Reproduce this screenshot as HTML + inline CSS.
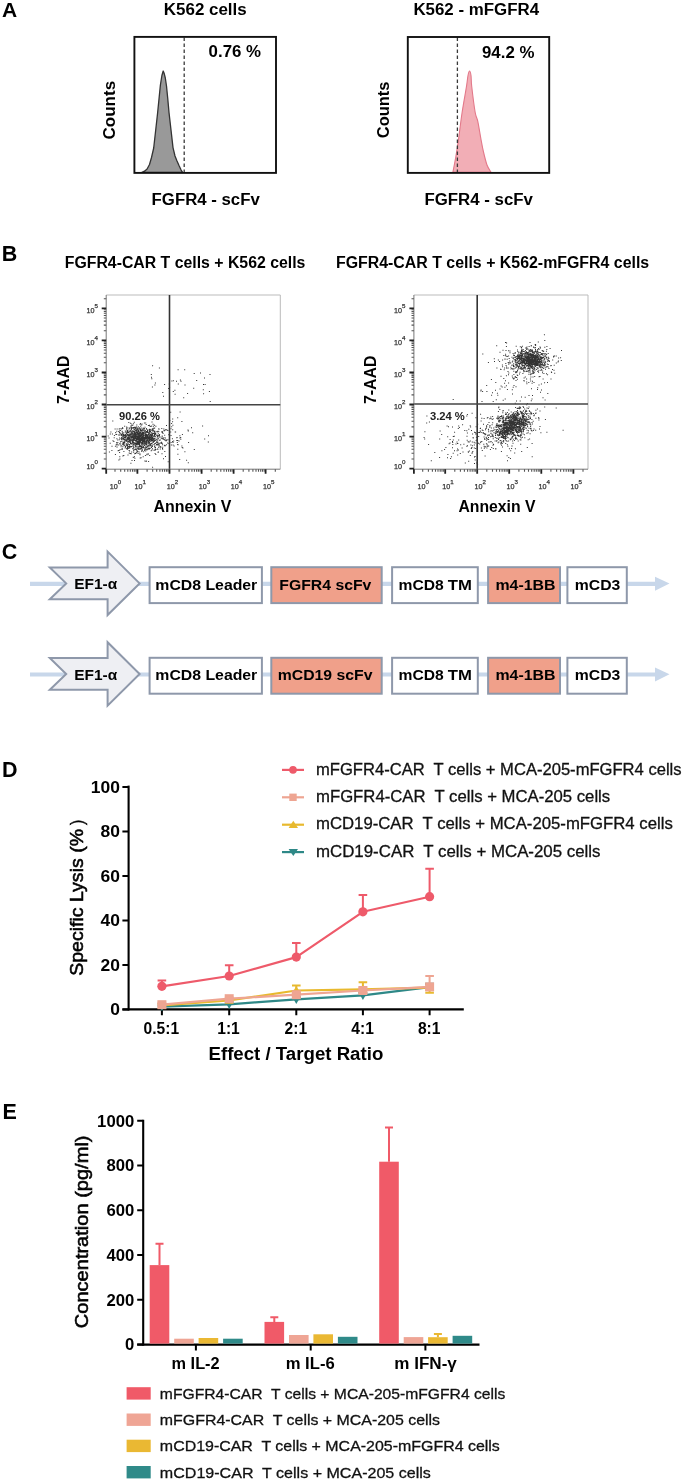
<!DOCTYPE html>
<html><head><meta charset="utf-8"><style>
html,body{margin:0;padding:0;background:#fff;}
body{width:685px;height:1481px;overflow:hidden;}
svg{display:block;filter:blur(0.35px);font-family:"Liberation Sans", sans-serif;}
</style></head><body>
<svg width="685" height="1481" viewBox="0 0 685 1481">
<text x="2" y="17.1" font-size="21" font-weight="bold">A</text>
<text x="163.80" y="14.90" font-size="16.8" font-weight="bold" fill="#000" textLength="82.92" lengthAdjust="spacingAndGlyphs" style="white-space:pre" >K562 cells</text>
<text x="413.40" y="14.70" font-size="16.8" font-weight="bold" fill="#000" textLength="125.71" lengthAdjust="spacingAndGlyphs" style="white-space:pre" >K562 - mFGFR4</text>
<path d="M141.9,172.3 L144.5,171.2 L147.1,169 L149.5,164.5 L151.5,157.5 L153.7,148 L155.6,131 L157.6,113 L159.2,97 L160.4,85 L161.9,75.5 L163.2,71.0 L164.3,73.8 L165.3,78 L166.5,86 L167.7,98 L169,112.5 L171,130 L173,147.6 L175,156 L176.9,160.7 L179,165.5 L181,169.8 L182.6,172.3 Z" fill="#999" stroke="#333" stroke-width="1.3" stroke-linejoin="round"/>
<path d="M452.90,172.20 C453.40,169.55 454.95,161.87 455.90,156.30 C456.85,150.73 457.57,146.10 458.60,138.80 C459.63,131.50 460.78,121.25 462.10,112.50 C463.42,103.75 465.52,92.47 466.50,86.30 C467.48,80.13 467.50,78.05 468.00,75.50 C468.50,72.95 469.00,71.00 469.50,71.00 C470.00,71.00 470.63,72.95 471.00,75.50 C471.37,78.05 471.00,80.13 471.70,86.30 C472.40,92.47 474.18,106.67 475.20,112.50 C476.22,118.33 476.85,116.92 477.80,121.30 C478.75,125.68 479.95,133.68 480.90,138.80 C481.85,143.92 482.48,147.63 483.50,152.00 C484.52,156.37 485.75,161.63 487.00,165.00 C488.25,168.37 490.33,171.00 491.00,172.20 Z" fill="#F2AEB6" stroke="#E3798A" stroke-width="1.1" stroke-linejoin="round"/>
<line x1="184.2" y1="37.4" x2="184.2" y2="172" stroke="#3a3a3a" stroke-width="1.3" stroke-dasharray="3.6 2.4"/>
<line x1="457.4" y1="37.4" x2="457.4" y2="172" stroke="#3a3a3a" stroke-width="1.3" stroke-dasharray="3.6 2.4"/>
<rect x="134.4" y="36.9" width="141.6" height="136.0" fill="none" stroke="#111" stroke-width="1.9"/>
<rect x="407.8" y="37.0" width="141.4" height="135.9" fill="none" stroke="#111" stroke-width="1.9"/>
<text x="208.63" y="57.00" font-size="16.8" font-weight="bold" fill="#000" textLength="52.47" lengthAdjust="spacingAndGlyphs" style="white-space:pre" >0.76 %</text>
<text x="482.01" y="58.20" font-size="16.8" font-weight="bold" fill="#000" textLength="52.38" lengthAdjust="spacingAndGlyphs" style="white-space:pre" >94.2 %</text>
<text transform="translate(115.00,138.80) rotate(-90)" x="-0.68" y="0" font-size="16.8" font-weight="bold" fill="#000" textLength="58.64" lengthAdjust="spacingAndGlyphs" >Counts</text>
<text transform="translate(389.00,137.50) rotate(-90)" x="-0.66" y="0" font-size="16.8" font-weight="bold" fill="#000" textLength="56.60" lengthAdjust="spacingAndGlyphs" >Counts</text>
<text x="151.61" y="205.40" font-size="16.8" font-weight="bold" fill="#000" textLength="108.19" lengthAdjust="spacingAndGlyphs" style="white-space:pre" >FGFR4 - scFv</text>
<text x="424.51" y="205.00" font-size="16.8" font-weight="bold" fill="#000" textLength="108.39" lengthAdjust="spacingAndGlyphs" style="white-space:pre" >FGFR4 - scFv</text>
<text x="1.7" y="260.6" font-size="21.5" font-weight="bold">B</text>
<text x="64.77" y="267.90" font-size="15.8" font-weight="bold" fill="#000" textLength="240.57" lengthAdjust="spacingAndGlyphs" style="white-space:pre" >FGFR4-CAR T cells + K562 cells</text>
<text x="335.97" y="267.90" font-size="15.8" font-weight="bold" fill="#000" textLength="313.18" lengthAdjust="spacingAndGlyphs" style="white-space:pre" >FGFR4-CAR T cells + K562-mFGFR4 cells</text>
<path d="M106.2,295.0 H280.3 V469.2" fill="none" stroke="#bbb" stroke-width="1"/>
<path d="M139.2 439.6h1v1h-1zM135.8 433.4h1v1h-1zM134.0 433.1h1v1h-1zM140.2 445.2h1v1h-1zM133.8 435.1h1v1h-1zM144.0 439.5h1v1h-1zM139.6 432.9h1v1h-1zM139.0 441.8h1v1h-1zM125.4 436.7h1v1h-1zM119.5 432.7h1v1h-1zM120.5 438.3h1v1h-1zM126.5 440.6h1v1h-1zM140.5 436.9h1v1h-1zM113.7 437.3h1v1h-1zM138.6 438.7h1v1h-1zM123.5 436.8h1v1h-1zM128.9 434.5h1v1h-1zM149.2 432.7h1v1h-1zM139.1 442.8h1v1h-1zM133.1 437.9h1v1h-1zM140.1 438.2h1v1h-1zM126.8 439.5h1v1h-1zM151.8 428.5h1v1h-1zM147.6 437.9h1v1h-1zM133.6 449.3h1v1h-1zM146.0 430.9h1v1h-1zM140.0 441.0h1v1h-1zM137.4 441.8h1v1h-1zM138.7 441.6h1v1h-1zM153.0 433.1h1v1h-1zM140.8 435.3h1v1h-1zM139.7 431.5h1v1h-1zM133.1 437.4h1v1h-1zM148.5 443.4h1v1h-1zM125.4 434.9h1v1h-1zM144.5 426.7h1v1h-1zM134.3 437.9h1v1h-1zM151.8 440.6h1v1h-1zM135.6 436.3h1v1h-1zM137.2 446.4h1v1h-1zM134.6 436.7h1v1h-1zM142.5 437.0h1v1h-1zM136.5 432.2h1v1h-1zM138.7 435.6h1v1h-1zM150.9 440.5h1v1h-1zM139.1 441.6h1v1h-1zM136.1 444.0h1v1h-1zM139.2 441.1h1v1h-1zM126.3 441.0h1v1h-1zM121.2 428.5h1v1h-1zM135.5 433.4h1v1h-1zM141.7 449.9h1v1h-1zM130.4 435.4h1v1h-1zM141.3 440.5h1v1h-1zM137.1 437.0h1v1h-1zM146.2 440.2h1v1h-1zM128.7 438.5h1v1h-1zM138.9 432.3h1v1h-1zM141.2 433.2h1v1h-1zM148.8 438.2h1v1h-1zM139.6 434.7h1v1h-1zM136.9 427.4h1v1h-1zM127.9 440.9h1v1h-1zM118.2 444.4h1v1h-1zM122.0 443.6h1v1h-1zM130.9 442.9h1v1h-1zM139.6 429.6h1v1h-1zM152.1 444.7h1v1h-1zM138.2 436.6h1v1h-1zM136.9 432.9h1v1h-1zM149.7 434.1h1v1h-1zM138.1 433.8h1v1h-1zM132.2 431.7h1v1h-1zM151.5 436.1h1v1h-1zM148.6 437.2h1v1h-1zM131.9 436.8h1v1h-1zM133.4 438.5h1v1h-1zM135.1 436.7h1v1h-1zM124.9 434.9h1v1h-1zM155.2 432.9h1v1h-1zM128.7 440.7h1v1h-1zM152.3 429.0h1v1h-1zM136.6 434.8h1v1h-1zM121.8 443.5h1v1h-1zM138.8 438.4h1v1h-1zM131.7 441.1h1v1h-1zM133.6 437.7h1v1h-1zM127.4 432.4h1v1h-1zM152.1 434.1h1v1h-1zM141.9 437.6h1v1h-1zM134.4 435.7h1v1h-1zM145.1 435.8h1v1h-1zM137.5 438.3h1v1h-1zM151.0 440.6h1v1h-1zM142.5 434.6h1v1h-1zM125.7 444.3h1v1h-1zM148.6 436.4h1v1h-1zM144.8 441.7h1v1h-1zM147.7 442.2h1v1h-1zM135.2 446.5h1v1h-1zM127.0 443.7h1v1h-1zM144.3 442.3h1v1h-1zM158.4 444.3h1v1h-1zM126.8 429.9h1v1h-1zM146.7 431.8h1v1h-1zM139.3 442.5h1v1h-1zM121.6 428.1h1v1h-1zM141.6 438.0h1v1h-1zM136.6 438.4h1v1h-1zM129.7 430.6h1v1h-1zM136.9 432.9h1v1h-1zM122.9 442.2h1v1h-1zM138.6 440.2h1v1h-1zM128.8 435.3h1v1h-1zM128.6 434.1h1v1h-1zM140.6 433.6h1v1h-1zM142.7 439.5h1v1h-1zM158.5 428.7h1v1h-1zM147.8 436.7h1v1h-1zM138.2 430.2h1v1h-1zM134.8 442.4h1v1h-1zM138.2 438.5h1v1h-1zM136.6 444.5h1v1h-1zM137.8 426.2h1v1h-1zM131.2 428.0h1v1h-1zM152.3 437.1h1v1h-1zM126.9 434.0h1v1h-1zM150.3 437.9h1v1h-1zM139.5 437.7h1v1h-1zM139.8 442.3h1v1h-1zM144.6 438.7h1v1h-1zM128.9 441.7h1v1h-1zM132.7 444.5h1v1h-1zM126.3 438.4h1v1h-1zM138.3 430.9h1v1h-1zM156.8 444.4h1v1h-1zM134.7 442.6h1v1h-1zM141.5 423.6h1v1h-1zM141.5 437.5h1v1h-1zM139.3 432.1h1v1h-1zM136.2 437.3h1v1h-1zM151.0 438.8h1v1h-1zM139.7 446.2h1v1h-1zM133.3 436.4h1v1h-1zM121.6 448.0h1v1h-1zM149.0 442.1h1v1h-1zM145.7 438.0h1v1h-1zM141.0 436.5h1v1h-1zM137.0 438.5h1v1h-1zM154.3 439.7h1v1h-1zM138.1 434.9h1v1h-1zM133.4 447.2h1v1h-1zM144.1 437.9h1v1h-1zM135.0 432.3h1v1h-1zM138.7 442.8h1v1h-1zM135.0 437.1h1v1h-1zM136.8 438.8h1v1h-1zM123.0 438.1h1v1h-1zM130.9 443.5h1v1h-1zM131.6 441.8h1v1h-1zM154.0 435.0h1v1h-1zM133.1 439.6h1v1h-1zM138.5 432.7h1v1h-1zM144.5 448.4h1v1h-1zM136.3 437.1h1v1h-1zM128.7 440.6h1v1h-1zM126.1 433.1h1v1h-1zM151.3 432.0h1v1h-1zM150.5 445.3h1v1h-1zM141.8 440.8h1v1h-1zM158.4 435.2h1v1h-1zM132.5 431.2h1v1h-1zM140.1 445.9h1v1h-1zM148.1 432.1h1v1h-1zM130.2 436.0h1v1h-1zM141.8 436.6h1v1h-1zM141.3 439.4h1v1h-1zM136.0 438.0h1v1h-1zM141.0 437.4h1v1h-1zM144.9 447.6h1v1h-1zM144.9 437.8h1v1h-1zM122.4 441.6h1v1h-1zM118.9 432.1h1v1h-1zM147.8 441.1h1v1h-1zM136.7 428.9h1v1h-1zM135.0 434.7h1v1h-1zM146.4 449.6h1v1h-1zM140.8 433.6h1v1h-1zM127.3 438.7h1v1h-1zM136.7 432.0h1v1h-1zM139.6 431.7h1v1h-1zM150.6 442.7h1v1h-1zM149.6 434.5h1v1h-1zM144.1 436.8h1v1h-1zM135.0 436.5h1v1h-1zM125.4 431.4h1v1h-1zM146.8 436.3h1v1h-1zM141.6 443.2h1v1h-1zM121.4 435.3h1v1h-1zM140.9 440.0h1v1h-1zM135.7 443.9h1v1h-1zM140.5 431.3h1v1h-1zM130.1 443.1h1v1h-1zM142.7 427.4h1v1h-1zM152.7 440.0h1v1h-1zM152.2 434.8h1v1h-1zM135.5 432.2h1v1h-1zM164.2 434.8h1v1h-1zM154.5 433.1h1v1h-1zM139.8 428.9h1v1h-1zM135.6 443.6h1v1h-1zM127.0 444.9h1v1h-1zM141.9 432.1h1v1h-1zM133.8 436.0h1v1h-1zM138.3 435.2h1v1h-1zM130.6 437.1h1v1h-1zM128.2 432.0h1v1h-1zM138.9 442.8h1v1h-1zM123.8 439.4h1v1h-1zM132.1 433.3h1v1h-1zM147.3 434.5h1v1h-1zM153.6 432.5h1v1h-1zM142.7 436.4h1v1h-1zM131.8 441.8h1v1h-1zM137.7 441.4h1v1h-1zM138.0 432.2h1v1h-1zM138.0 438.4h1v1h-1zM148.1 432.3h1v1h-1zM137.8 428.8h1v1h-1zM145.0 431.6h1v1h-1zM121.0 439.3h1v1h-1zM149.3 428.8h1v1h-1zM127.8 434.9h1v1h-1zM127.9 441.0h1v1h-1zM130.6 434.8h1v1h-1zM144.5 433.4h1v1h-1zM142.9 432.4h1v1h-1zM126.1 429.2h1v1h-1zM157.4 434.7h1v1h-1zM141.4 437.6h1v1h-1zM140.6 438.1h1v1h-1zM157.5 430.7h1v1h-1zM123.0 433.9h1v1h-1zM126.1 443.2h1v1h-1zM146.7 432.1h1v1h-1zM125.0 437.3h1v1h-1zM151.5 421.6h1v1h-1zM143.7 431.8h1v1h-1zM148.9 431.3h1v1h-1zM135.4 430.1h1v1h-1zM129.9 446.3h1v1h-1zM147.0 435.1h1v1h-1zM129.4 428.6h1v1h-1zM135.1 438.2h1v1h-1zM138.1 437.6h1v1h-1zM127.8 438.6h1v1h-1zM139.2 445.0h1v1h-1zM157.5 435.6h1v1h-1zM131.3 438.3h1v1h-1zM132.6 434.5h1v1h-1zM137.9 432.4h1v1h-1zM145.0 436.9h1v1h-1zM141.4 436.8h1v1h-1zM131.3 433.5h1v1h-1zM136.4 435.3h1v1h-1zM141.3 437.8h1v1h-1zM125.5 439.5h1v1h-1zM125.3 435.9h1v1h-1zM135.1 427.1h1v1h-1zM140.0 438.7h1v1h-1zM137.2 435.9h1v1h-1zM134.8 433.1h1v1h-1zM136.1 435.3h1v1h-1zM139.3 431.4h1v1h-1zM141.4 438.6h1v1h-1zM137.4 435.8h1v1h-1zM143.7 428.6h1v1h-1zM143.7 438.9h1v1h-1zM142.0 439.8h1v1h-1zM132.4 437.2h1v1h-1zM145.5 439.8h1v1h-1zM140.3 429.7h1v1h-1zM144.9 443.8h1v1h-1zM149.2 438.4h1v1h-1zM123.9 444.4h1v1h-1zM136.3 424.5h1v1h-1zM142.1 429.6h1v1h-1zM125.8 435.7h1v1h-1zM151.5 434.9h1v1h-1zM142.5 447.2h1v1h-1zM154.8 436.1h1v1h-1zM136.0 431.4h1v1h-1zM132.3 440.9h1v1h-1zM143.0 438.2h1v1h-1zM148.5 433.0h1v1h-1zM138.8 442.0h1v1h-1zM145.3 443.3h1v1h-1zM142.8 436.0h1v1h-1zM142.1 432.3h1v1h-1zM122.9 442.6h1v1h-1zM138.6 439.7h1v1h-1zM121.9 437.5h1v1h-1zM132.6 433.9h1v1h-1zM116.4 438.2h1v1h-1zM148.1 439.3h1v1h-1zM133.0 438.4h1v1h-1zM145.2 422.5h1v1h-1zM138.0 441.0h1v1h-1zM146.6 446.6h1v1h-1zM150.5 438.7h1v1h-1zM142.4 442.0h1v1h-1zM133.6 438.3h1v1h-1zM148.9 447.7h1v1h-1zM137.4 437.9h1v1h-1zM141.6 445.1h1v1h-1zM139.4 445.9h1v1h-1zM129.3 437.8h1v1h-1zM137.4 442.4h1v1h-1zM148.7 429.0h1v1h-1zM130.0 440.6h1v1h-1zM131.7 430.4h1v1h-1zM149.6 439.8h1v1h-1zM143.7 435.0h1v1h-1zM149.1 435.8h1v1h-1zM149.5 432.1h1v1h-1zM130.6 439.8h1v1h-1zM132.3 442.2h1v1h-1zM141.2 432.8h1v1h-1zM139.6 436.0h1v1h-1zM147.8 433.8h1v1h-1zM135.2 444.9h1v1h-1zM162.2 446.8h1v1h-1zM139.7 439.1h1v1h-1zM154.2 436.0h1v1h-1zM129.3 439.5h1v1h-1zM143.1 433.1h1v1h-1zM121.9 431.7h1v1h-1zM145.3 433.3h1v1h-1zM137.7 439.3h1v1h-1zM145.0 435.7h1v1h-1zM143.5 432.8h1v1h-1zM134.9 432.8h1v1h-1zM150.3 436.9h1v1h-1zM131.5 436.7h1v1h-1zM137.1 442.0h1v1h-1zM122.6 433.8h1v1h-1zM136.4 452.0h1v1h-1zM148.5 436.6h1v1h-1zM147.1 448.4h1v1h-1zM136.5 436.2h1v1h-1zM151.3 439.6h1v1h-1zM145.4 434.7h1v1h-1zM159.0 445.5h1v1h-1zM145.0 441.2h1v1h-1zM119.1 443.2h1v1h-1zM137.3 440.5h1v1h-1zM145.6 435.6h1v1h-1zM122.3 441.5h1v1h-1zM131.5 436.9h1v1h-1zM132.8 436.7h1v1h-1zM116.6 446.6h1v1h-1zM142.0 443.8h1v1h-1zM158.7 436.4h1v1h-1zM120.6 434.8h1v1h-1zM126.7 436.4h1v1h-1zM138.9 427.2h1v1h-1zM141.7 429.6h1v1h-1zM141.9 437.2h1v1h-1zM135.8 437.9h1v1h-1zM133.3 435.2h1v1h-1zM122.2 439.3h1v1h-1zM158.3 447.0h1v1h-1zM152.5 440.6h1v1h-1zM132.9 446.4h1v1h-1zM138.4 437.7h1v1h-1zM136.1 438.7h1v1h-1zM134.6 437.9h1v1h-1zM128.0 436.9h1v1h-1zM161.7 435.6h1v1h-1zM136.9 441.1h1v1h-1zM145.5 431.4h1v1h-1zM137.4 443.1h1v1h-1zM141.7 438.4h1v1h-1zM154.2 433.0h1v1h-1zM139.6 435.1h1v1h-1zM152.9 426.2h1v1h-1zM132.1 435.7h1v1h-1zM145.9 440.7h1v1h-1zM152.2 428.3h1v1h-1zM146.3 435.8h1v1h-1zM132.6 441.5h1v1h-1zM128.9 427.6h1v1h-1zM134.6 430.3h1v1h-1zM132.7 440.6h1v1h-1zM142.9 446.3h1v1h-1zM136.3 429.9h1v1h-1zM131.0 433.7h1v1h-1zM127.1 441.4h1v1h-1zM131.6 427.9h1v1h-1zM145.9 436.8h1v1h-1zM142.6 438.3h1v1h-1zM145.3 437.7h1v1h-1zM151.5 439.2h1v1h-1zM143.1 439.9h1v1h-1zM124.4 438.4h1v1h-1zM136.5 439.3h1v1h-1zM126.2 448.0h1v1h-1zM139.5 431.4h1v1h-1zM121.8 438.0h1v1h-1zM137.8 434.2h1v1h-1zM139.6 434.5h1v1h-1zM144.2 433.6h1v1h-1zM139.1 443.3h1v1h-1zM164.1 430.3h1v1h-1zM134.0 433.9h1v1h-1zM146.3 431.1h1v1h-1zM134.2 438.3h1v1h-1zM128.8 433.7h1v1h-1zM133.3 427.1h1v1h-1zM124.4 437.0h1v1h-1zM140.4 436.9h1v1h-1zM121.1 437.1h1v1h-1zM147.2 440.3h1v1h-1zM137.8 433.3h1v1h-1zM145.0 434.3h1v1h-1zM127.0 434.7h1v1h-1zM153.5 437.9h1v1h-1zM150.3 434.4h1v1h-1zM148.1 433.9h1v1h-1zM138.6 451.5h1v1h-1zM146.4 434.6h1v1h-1zM138.3 439.8h1v1h-1zM150.8 434.3h1v1h-1zM121.5 438.0h1v1h-1zM139.2 438.6h1v1h-1zM152.3 438.6h1v1h-1zM146.6 431.4h1v1h-1zM148.6 448.5h1v1h-1zM146.8 438.7h1v1h-1zM141.4 447.5h1v1h-1zM129.7 438.2h1v1h-1zM143.9 441.6h1v1h-1zM134.8 440.0h1v1h-1zM136.3 438.9h1v1h-1zM137.1 432.0h1v1h-1zM139.2 442.7h1v1h-1zM129.3 437.5h1v1h-1zM145.1 431.7h1v1h-1zM140.3 432.1h1v1h-1zM151.4 449.5h1v1h-1zM159.0 435.1h1v1h-1zM146.4 438.0h1v1h-1zM140.7 446.2h1v1h-1zM126.4 444.8h1v1h-1zM139.2 445.6h1v1h-1zM140.5 434.2h1v1h-1zM142.1 441.7h1v1h-1zM139.6 440.6h1v1h-1zM132.8 427.0h1v1h-1zM148.3 441.0h1v1h-1zM140.5 438.2h1v1h-1zM149.1 434.6h1v1h-1zM131.9 437.6h1v1h-1zM150.2 429.5h1v1h-1zM150.6 433.5h1v1h-1zM128.6 445.7h1v1h-1zM137.4 431.1h1v1h-1zM135.9 443.3h1v1h-1zM150.7 434.7h1v1h-1zM143.4 441.5h1v1h-1zM132.7 440.5h1v1h-1zM138.4 435.1h1v1h-1zM134.1 438.8h1v1h-1zM139.0 434.9h1v1h-1zM135.3 444.4h1v1h-1zM141.5 442.6h1v1h-1zM151.2 440.1h1v1h-1zM161.2 431.6h1v1h-1zM146.9 435.6h1v1h-1zM158.3 445.5h1v1h-1zM119.1 434.5h1v1h-1zM146.0 441.7h1v1h-1zM146.3 437.0h1v1h-1zM143.8 441.1h1v1h-1zM138.7 443.6h1v1h-1zM116.8 443.4h1v1h-1zM129.2 444.1h1v1h-1zM136.3 433.4h1v1h-1zM142.3 432.8h1v1h-1zM129.2 430.4h1v1h-1zM139.0 440.7h1v1h-1zM149.1 436.3h1v1h-1zM149.4 437.2h1v1h-1zM138.3 441.2h1v1h-1zM149.4 435.2h1v1h-1zM136.5 437.3h1v1h-1zM139.4 433.1h1v1h-1zM149.1 435.0h1v1h-1zM143.2 433.2h1v1h-1zM142.8 439.8h1v1h-1zM135.8 449.2h1v1h-1zM143.5 447.2h1v1h-1zM148.2 433.6h1v1h-1zM135.4 440.7h1v1h-1zM139.6 438.2h1v1h-1zM135.3 428.5h1v1h-1zM135.7 426.3h1v1h-1zM142.4 433.8h1v1h-1zM131.8 437.4h1v1h-1zM141.0 430.1h1v1h-1zM121.1 433.8h1v1h-1zM118.2 434.6h1v1h-1zM154.4 430.9h1v1h-1zM144.8 430.1h1v1h-1zM141.8 436.0h1v1h-1zM138.7 441.1h1v1h-1zM156.6 437.5h1v1h-1zM139.8 432.7h1v1h-1zM144.7 436.2h1v1h-1zM147.3 437.0h1v1h-1zM155.4 425.8h1v1h-1zM136.5 443.0h1v1h-1zM135.1 434.0h1v1h-1zM135.7 430.8h1v1h-1zM141.3 451.0h1v1h-1zM149.9 431.0h1v1h-1zM130.1 436.6h1v1h-1zM148.6 432.7h1v1h-1zM132.5 443.4h1v1h-1zM147.4 435.2h1v1h-1zM127.1 430.6h1v1h-1zM131.0 426.6h1v1h-1zM146.2 434.0h1v1h-1zM144.7 447.6h1v1h-1zM150.1 430.8h1v1h-1zM148.2 443.5h1v1h-1zM131.1 433.5h1v1h-1zM137.2 429.5h1v1h-1zM152.5 423.8h1v1h-1zM127.8 437.5h1v1h-1zM136.8 439.1h1v1h-1zM141.6 436.6h1v1h-1zM149.3 425.5h1v1h-1zM138.7 434.2h1v1h-1zM140.4 439.1h1v1h-1zM129.6 435.3h1v1h-1zM147.1 439.2h1v1h-1zM133.2 449.6h1v1h-1zM161.3 428.1h1v1h-1zM143.2 451.2h1v1h-1zM146.9 438.5h1v1h-1zM136.7 435.3h1v1h-1zM136.6 435.2h1v1h-1zM146.2 435.2h1v1h-1zM134.0 431.9h1v1h-1zM138.1 433.2h1v1h-1zM137.7 443.8h1v1h-1zM142.9 440.4h1v1h-1zM142.6 438.0h1v1h-1zM137.6 436.5h1v1h-1zM146.1 431.5h1v1h-1zM152.4 437.0h1v1h-1zM131.3 436.0h1v1h-1zM132.3 439.5h1v1h-1zM132.4 444.8h1v1h-1zM130.1 426.5h1v1h-1zM130.8 427.8h1v1h-1zM139.1 443.7h1v1h-1zM144.8 430.2h1v1h-1zM132.2 448.2h1v1h-1zM142.2 437.7h1v1h-1zM150.7 450.3h1v1h-1zM152.0 437.6h1v1h-1zM142.8 441.0h1v1h-1zM132.4 432.8h1v1h-1zM139.1 432.9h1v1h-1zM138.4 438.6h1v1h-1zM161.9 431.4h1v1h-1zM137.7 437.2h1v1h-1zM143.8 443.2h1v1h-1zM133.7 434.0h1v1h-1zM122.2 434.4h1v1h-1zM144.4 437.8h1v1h-1zM128.7 436.9h1v1h-1zM139.6 440.7h1v1h-1zM133.0 437.2h1v1h-1zM120.3 433.4h1v1h-1zM154.1 424.8h1v1h-1zM135.7 439.5h1v1h-1zM134.9 434.0h1v1h-1zM138.4 438.0h1v1h-1zM137.3 428.0h1v1h-1zM137.1 433.5h1v1h-1zM133.7 439.7h1v1h-1zM145.8 442.3h1v1h-1zM134.5 443.4h1v1h-1zM151.2 443.1h1v1h-1zM152.8 436.0h1v1h-1zM137.7 442.6h1v1h-1zM125.5 440.3h1v1h-1zM133.5 436.5h1v1h-1zM121.2 434.7h1v1h-1zM139.2 442.8h1v1h-1zM148.8 436.7h1v1h-1zM136.7 433.7h1v1h-1zM142.9 436.3h1v1h-1zM145.9 446.9h1v1h-1zM138.0 430.0h1v1h-1zM129.7 430.9h1v1h-1zM127.7 446.1h1v1h-1zM140.5 429.6h1v1h-1zM146.1 444.2h1v1h-1zM135.1 434.7h1v1h-1zM135.8 439.8h1v1h-1zM145.9 443.8h1v1h-1zM151.6 443.3h1v1h-1zM152.9 440.4h1v1h-1zM123.7 438.6h1v1h-1zM141.9 435.7h1v1h-1zM147.9 435.3h1v1h-1zM130.5 446.6h1v1h-1zM145.7 438.6h1v1h-1zM148.7 442.9h1v1h-1zM141.2 424.5h1v1h-1zM132.1 436.1h1v1h-1zM129.3 439.9h1v1h-1zM150.6 434.4h1v1h-1zM128.6 449.9h1v1h-1zM133.9 431.8h1v1h-1zM141.6 440.1h1v1h-1zM132.3 442.9h1v1h-1zM133.7 433.5h1v1h-1zM141.1 442.0h1v1h-1zM132.8 440.3h1v1h-1zM139.4 453.3h1v1h-1zM132.6 446.1h1v1h-1zM138.4 437.4h1v1h-1zM146.6 442.2h1v1h-1zM151.8 438.7h1v1h-1zM132.8 435.6h1v1h-1zM144.4 440.7h1v1h-1zM153.1 439.0h1v1h-1zM150.3 445.2h1v1h-1zM139.9 429.9h1v1h-1zM126.6 431.3h1v1h-1zM154.5 432.1h1v1h-1zM151.5 440.1h1v1h-1zM156.6 441.9h1v1h-1zM137.9 437.0h1v1h-1zM139.9 438.9h1v1h-1zM133.7 438.3h1v1h-1zM154.2 427.4h1v1h-1zM141.1 432.9h1v1h-1zM141.3 442.4h1v1h-1zM138.8 442.2h1v1h-1zM123.7 445.3h1v1h-1zM133.3 441.9h1v1h-1zM139.6 423.9h1v1h-1zM131.6 439.8h1v1h-1zM154.6 438.2h1v1h-1zM140.9 430.2h1v1h-1zM154.1 446.5h1v1h-1zM139.2 436.8h1v1h-1zM123.3 444.2h1v1h-1zM166.3 439.5h1v1h-1zM151.8 439.8h1v1h-1zM129.8 446.0h1v1h-1zM126.6 437.9h1v1h-1zM142.2 442.5h1v1h-1zM143.3 439.7h1v1h-1zM130.8 431.7h1v1h-1zM139.3 434.1h1v1h-1zM125.4 432.3h1v1h-1zM133.2 428.5h1v1h-1zM124.8 430.4h1v1h-1zM141.0 440.0h1v1h-1zM158.3 428.2h1v1h-1zM132.7 443.5h1v1h-1zM136.7 436.4h1v1h-1zM155.9 434.7h1v1h-1zM126.9 431.9h1v1h-1zM142.5 439.3h1v1h-1zM124.9 433.9h1v1h-1zM144.6 440.6h1v1h-1zM132.9 441.9h1v1h-1zM143.9 427.9h1v1h-1zM136.1 440.5h1v1h-1zM132.3 427.0h1v1h-1zM136.5 442.3h1v1h-1zM153.7 424.8h1v1h-1zM164.5 429.7h1v1h-1zM149.1 443.8h1v1h-1zM148.9 437.9h1v1h-1zM127.7 442.4h1v1h-1zM130.7 425.1h1v1h-1zM167.5 439.3h1v1h-1zM156.7 431.5h1v1h-1zM154.4 445.3h1v1h-1zM154.5 436.5h1v1h-1zM126.9 438.1h1v1h-1zM116.3 430.8h1v1h-1zM139.4 432.6h1v1h-1zM137.3 437.6h1v1h-1zM158.8 443.3h1v1h-1zM139.1 444.5h1v1h-1zM131.1 436.9h1v1h-1zM147.5 430.5h1v1h-1zM135.6 431.1h1v1h-1zM140.9 446.7h1v1h-1zM131.6 439.9h1v1h-1zM129.5 432.6h1v1h-1zM127.4 446.9h1v1h-1zM162.8 438.5h1v1h-1zM132.2 442.4h1v1h-1zM136.0 442.6h1v1h-1zM142.0 439.3h1v1h-1zM144.8 434.4h1v1h-1zM134.2 429.1h1v1h-1zM133.9 430.7h1v1h-1zM137.1 433.0h1v1h-1zM140.2 440.3h1v1h-1zM124.5 434.9h1v1h-1zM130.0 442.8h1v1h-1zM156.4 441.1h1v1h-1zM136.2 446.2h1v1h-1zM124.6 447.4h1v1h-1zM131.2 423.6h1v1h-1zM166.1 444.2h1v1h-1zM128.8 439.8h1v1h-1zM136.9 438.7h1v1h-1zM123.9 435.6h1v1h-1zM143.8 438.8h1v1h-1zM151.0 437.4h1v1h-1zM162.1 432.1h1v1h-1zM140.7 427.5h1v1h-1zM127.1 446.2h1v1h-1zM129.9 441.7h1v1h-1zM137.9 432.4h1v1h-1zM135.3 435.5h1v1h-1zM134.5 442.5h1v1h-1zM145.2 434.3h1v1h-1zM130.1 440.3h1v1h-1zM138.5 443.6h1v1h-1zM165.8 440.2h1v1h-1zM138.6 437.1h1v1h-1zM130.0 433.9h1v1h-1zM128.8 436.7h1v1h-1zM135.1 442.4h1v1h-1zM134.9 437.3h1v1h-1zM127.6 447.9h1v1h-1zM144.9 447.2h1v1h-1zM147.6 445.3h1v1h-1zM136.9 442.1h1v1h-1zM165.4 429.1h1v1h-1zM151.5 446.1h1v1h-1zM143.6 441.7h1v1h-1zM151.4 433.3h1v1h-1zM142.7 432.9h1v1h-1zM131.8 435.2h1v1h-1zM137.6 438.9h1v1h-1zM142.9 429.8h1v1h-1zM159.7 442.6h1v1h-1zM146.2 435.4h1v1h-1zM138.4 441.1h1v1h-1zM142.4 428.4h1v1h-1zM148.0 453.4h1v1h-1zM120.6 445.1h1v1h-1zM142.7 437.1h1v1h-1zM152.4 430.2h1v1h-1zM141.4 445.9h1v1h-1zM136.8 435.9h1v1h-1zM140.0 435.4h1v1h-1zM154.4 431.6h1v1h-1zM147.3 430.3h1v1h-1zM145.8 436.8h1v1h-1zM112.5 440.3h1v1h-1zM127.9 436.5h1v1h-1zM154.2 430.4h1v1h-1zM128.8 446.9h1v1h-1zM139.8 448.1h1v1h-1zM136.2 440.6h1v1h-1zM137.4 443.9h1v1h-1zM152.4 442.0h1v1h-1zM129.9 433.4h1v1h-1zM164.9 437.6h1v1h-1zM135.6 452.5h1v1h-1zM156.3 444.5h1v1h-1zM134.0 460.0h1v1h-1zM145.9 444.6h1v1h-1zM137.4 428.0h1v1h-1zM120.0 443.5h1v1h-1zM145.9 438.0h1v1h-1zM122.4 427.7h1v1h-1zM135.1 427.6h1v1h-1zM153.5 449.8h1v1h-1zM182.4 447.5h1v1h-1zM131.1 432.6h1v1h-1zM137.3 448.2h1v1h-1zM149.2 445.0h1v1h-1zM143.2 445.6h1v1h-1zM161.7 430.9h1v1h-1zM133.1 428.2h1v1h-1zM164.3 451.0h1v1h-1zM151.3 429.8h1v1h-1zM142.6 438.0h1v1h-1zM141.2 438.4h1v1h-1zM147.8 436.6h1v1h-1zM152.8 442.1h1v1h-1zM135.6 439.0h1v1h-1zM133.4 446.9h1v1h-1zM135.9 442.5h1v1h-1zM134.1 427.4h1v1h-1zM153.6 431.0h1v1h-1zM150.2 443.6h1v1h-1zM115.2 432.0h1v1h-1zM132.3 433.0h1v1h-1zM122.3 446.3h1v1h-1zM136.4 443.3h1v1h-1zM133.5 442.6h1v1h-1zM128.7 439.8h1v1h-1zM148.7 440.4h1v1h-1zM133.1 430.8h1v1h-1zM142.5 442.9h1v1h-1zM136.1 433.5h1v1h-1zM148.1 461.1h1v1h-1zM135.5 442.9h1v1h-1zM141.9 434.0h1v1h-1zM160.8 437.8h1v1h-1zM128.3 438.1h1v1h-1zM142.5 435.2h1v1h-1zM139.2 428.5h1v1h-1zM136.6 446.6h1v1h-1zM144.1 450.1h1v1h-1zM155.3 454.1h1v1h-1zM156.2 439.0h1v1h-1zM143.9 441.5h1v1h-1zM144.5 441.7h1v1h-1zM128.3 422.1h1v1h-1zM129.9 422.8h1v1h-1zM141.0 440.0h1v1h-1zM114.9 445.8h1v1h-1zM153.0 440.8h1v1h-1zM165.0 455.9h1v1h-1zM121.9 448.8h1v1h-1zM146.6 443.6h1v1h-1zM154.0 433.9h1v1h-1zM131.1 433.0h1v1h-1zM128.7 439.2h1v1h-1zM118.2 431.1h1v1h-1zM148.7 439.4h1v1h-1zM145.7 423.9h1v1h-1zM128.2 435.3h1v1h-1zM140.5 435.0h1v1h-1zM154.0 439.5h1v1h-1zM140.3 440.1h1v1h-1zM150.6 436.0h1v1h-1zM156.8 443.9h1v1h-1zM142.3 440.4h1v1h-1zM147.8 448.6h1v1h-1zM154.2 443.2h1v1h-1zM153.2 441.0h1v1h-1zM158.8 439.8h1v1h-1zM108.9 451.4h1v1h-1zM141.6 430.0h1v1h-1zM137.0 432.5h1v1h-1zM116.5 444.6h1v1h-1zM134.0 456.3h1v1h-1zM141.0 437.0h1v1h-1zM133.8 421.8h1v1h-1zM146.4 454.2h1v1h-1zM111.4 450.0h1v1h-1zM131.5 460.0h1v1h-1zM146.5 438.4h1v1h-1zM156.6 444.5h1v1h-1zM131.1 446.0h1v1h-1zM132.3 424.8h1v1h-1zM130.9 442.9h1v1h-1zM116.6 428.5h1v1h-1zM132.5 435.6h1v1h-1zM141.1 449.5h1v1h-1zM132.9 444.2h1v1h-1zM149.0 430.8h1v1h-1zM143.4 432.0h1v1h-1zM156.0 443.9h1v1h-1zM140.2 428.6h1v1h-1zM141.7 433.5h1v1h-1zM150.6 439.0h1v1h-1zM127.8 447.9h1v1h-1zM150.8 435.0h1v1h-1zM157.4 437.5h1v1h-1zM135.4 441.1h1v1h-1zM128.7 436.2h1v1h-1zM137.6 453.0h1v1h-1zM162.5 437.8h1v1h-1zM164.2 439.6h1v1h-1zM145.7 447.5h1v1h-1zM144.4 460.5h1v1h-1zM143.7 429.8h1v1h-1zM159.6 436.5h1v1h-1zM155.0 447.0h1v1h-1zM152.0 448.3h1v1h-1zM165.4 439.6h1v1h-1zM154.1 433.7h1v1h-1zM134.7 449.0h1v1h-1zM145.9 428.7h1v1h-1zM145.4 438.4h1v1h-1zM127.7 443.7h1v1h-1zM133.9 426.7h1v1h-1zM123.3 455.0h1v1h-1zM117.3 441.9h1v1h-1zM149.2 445.4h1v1h-1zM121.6 437.3h1v1h-1zM142.1 446.8h1v1h-1zM130.3 430.1h1v1h-1zM155.0 449.4h1v1h-1zM145.6 434.8h1v1h-1zM146.1 440.9h1v1h-1zM152.6 429.4h1v1h-1zM141.7 438.6h1v1h-1zM123.4 441.8h1v1h-1zM140.5 436.5h1v1h-1zM145.9 427.9h1v1h-1zM139.2 443.7h1v1h-1zM144.3 449.1h1v1h-1zM122.0 427.2h1v1h-1zM143.6 443.9h1v1h-1zM126.9 446.9h1v1h-1zM127.3 427.4h1v1h-1zM150.7 444.8h1v1h-1zM167.2 442.4h1v1h-1zM158.3 431.3h1v1h-1zM119.1 452.1h1v1h-1zM162.1 444.3h1v1h-1zM143.4 441.4h1v1h-1zM129.7 453.1h1v1h-1zM149.9 444.3h1v1h-1zM145.6 448.9h1v1h-1zM147.6 446.3h1v1h-1zM122.5 444.3h1v1h-1zM138.1 447.6h1v1h-1zM154.4 445.3h1v1h-1zM115.7 444.3h1v1h-1zM122.2 433.0h1v1h-1zM148.2 437.5h1v1h-1zM152.1 466.8h1v1h-1zM151.7 446.1h1v1h-1zM126.6 434.5h1v1h-1zM124.0 435.5h1v1h-1zM123.6 434.4h1v1h-1zM136.9 431.5h1v1h-1zM118.7 428.4h1v1h-1zM146.8 440.5h1v1h-1zM155.4 448.9h1v1h-1zM134.9 445.7h1v1h-1zM118.4 459.4h1v1h-1zM157.9 438.2h1v1h-1zM122.6 443.2h1v1h-1zM111.9 433.4h1v1h-1zM151.2 440.6h1v1h-1zM132.6 448.1h1v1h-1zM124.4 442.4h1v1h-1zM132.5 432.8h1v1h-1zM147.0 431.6h1v1h-1zM149.1 429.8h1v1h-1zM119.9 441.4h1v1h-1zM150.2 429.2h1v1h-1zM157.8 433.2h1v1h-1zM142.0 443.2h1v1h-1zM148.9 424.7h1v1h-1zM164.3 444.8h1v1h-1zM133.6 431.3h1v1h-1zM114.6 428.4h1v1h-1zM148.2 437.1h1v1h-1zM123.0 435.5h1v1h-1zM163.5 437.2h1v1h-1zM131.2 451.5h1v1h-1zM146.9 440.4h1v1h-1zM130.9 426.8h1v1h-1zM122.4 435.9h1v1h-1zM136.7 443.0h1v1h-1zM148.3 441.9h1v1h-1zM143.3 431.4h1v1h-1zM107.7 435.6h1v1h-1zM125.7 434.5h1v1h-1zM135.9 429.4h1v1h-1zM123.3 439.1h1v1h-1zM141.7 434.4h1v1h-1zM147.5 438.1h1v1h-1zM124.7 440.3h1v1h-1zM168.2 434.3h1v1h-1zM157.5 451.7h1v1h-1zM162.5 433.0h1v1h-1zM136.2 438.0h1v1h-1zM149.0 440.4h1v1h-1zM137.3 450.9h1v1h-1zM129.2 431.1h1v1h-1zM151.9 446.0h1v1h-1zM156.4 430.9h1v1h-1zM156.2 444.1h1v1h-1zM166.4 429.4h1v1h-1zM143.3 437.6h1v1h-1zM116.2 433.9h1v1h-1zM156.9 436.0h1v1h-1zM129.2 447.4h1v1h-1zM154.8 448.4h1v1h-1zM128.2 439.5h1v1h-1zM155.5 434.4h1v1h-1zM128.8 447.0h1v1h-1zM163.4 430.2h1v1h-1zM124.8 438.8h1v1h-1zM149.2 438.8h1v1h-1zM129.5 441.3h1v1h-1zM125.6 439.6h1v1h-1zM130.4 462.8h1v1h-1zM152.3 432.9h1v1h-1zM125.0 436.3h1v1h-1zM115.3 433.8h1v1h-1zM128.9 447.5h1v1h-1zM133.6 433.3h1v1h-1zM119.9 430.0h1v1h-1zM139.0 438.2h1v1h-1zM157.0 434.7h1v1h-1zM155.9 442.2h1v1h-1zM139.9 422.9h1v1h-1zM120.6 446.3h1v1h-1zM161.0 441.8h1v1h-1zM151.4 436.5h1v1h-1zM134.4 434.4h1v1h-1zM154.6 442.9h1v1h-1zM136.5 437.2h1v1h-1zM148.3 442.7h1v1h-1zM127.5 454.6h1v1h-1zM143.9 440.1h1v1h-1zM162.2 448.7h1v1h-1zM138.7 444.6h1v1h-1zM124.0 434.6h1v1h-1zM111.5 445.8h1v1h-1zM127.5 431.7h1v1h-1zM137.1 442.3h1v1h-1zM149.2 455.1h1v1h-1zM145.4 447.5h1v1h-1zM131.0 446.1h1v1h-1zM142.3 436.1h1v1h-1zM138.6 439.5h1v1h-1zM142.9 443.4h1v1h-1zM132.4 433.7h1v1h-1zM151.2 425.6h1v1h-1zM130.7 453.2h1v1h-1zM150.3 426.0h1v1h-1zM161.5 453.2h1v1h-1zM153.7 438.1h1v1h-1zM145.4 432.4h1v1h-1zM152.1 430.5h1v1h-1zM135.9 448.5h1v1h-1zM123.3 436.9h1v1h-1zM142.5 428.6h1v1h-1zM157.5 442.9h1v1h-1zM117.3 439.6h1v1h-1zM128.4 434.4h1v1h-1zM141.2 434.0h1v1h-1zM154.5 434.0h1v1h-1zM154.7 439.6h1v1h-1zM152.8 435.4h1v1h-1zM132.4 430.2h1v1h-1zM148.7 448.0h1v1h-1zM143.7 438.2h1v1h-1zM145.8 439.8h1v1h-1zM162.0 448.0h1v1h-1zM127.4 434.2h1v1h-1zM160.5 442.6h1v1h-1zM136.5 450.1h1v1h-1zM134.2 437.6h1v1h-1zM133.1 423.3h1v1h-1zM153.0 429.7h1v1h-1zM131.5 433.7h1v1h-1zM150.9 439.4h1v1h-1zM140.2 425.7h1v1h-1zM138.7 427.5h1v1h-1zM144.6 443.1h1v1h-1zM139.7 457.4h1v1h-1zM147.9 445.1h1v1h-1zM142.1 438.4h1v1h-1zM154.5 449.4h1v1h-1zM120.5 449.0h1v1h-1zM147.7 448.2h1v1h-1zM147.0 429.4h1v1h-1zM122.4 455.5h1v1h-1zM143.8 428.0h1v1h-1zM145.2 436.9h1v1h-1zM112.3 420.5h1v1h-1zM116.0 442.3h1v1h-1zM139.3 437.9h1v1h-1zM144.3 445.1h1v1h-1zM108.5 437.4h1v1h-1zM127.6 429.5h1v1h-1zM131.8 439.0h1v1h-1zM136.0 427.6h1v1h-1zM132.8 457.1h1v1h-1zM124.2 425.7h1v1h-1zM144.1 445.1h1v1h-1zM147.0 430.5h1v1h-1zM155.0 433.3h1v1h-1zM123.0 434.8h1v1h-1zM138.4 446.1h1v1h-1zM149.4 439.8h1v1h-1zM154.0 440.7h1v1h-1zM153.4 428.1h1v1h-1zM116.4 446.6h1v1h-1zM119.1 437.4h1v1h-1zM138.5 435.9h1v1h-1zM133.2 451.8h1v1h-1zM139.7 446.2h1v1h-1zM167.4 429.9h1v1h-1zM141.3 438.4h1v1h-1zM148.4 441.4h1v1h-1zM149.9 436.4h1v1h-1zM140.7 434.3h1v1h-1zM130.0 438.8h1v1h-1zM137.9 430.0h1v1h-1zM163.6 438.9h1v1h-1zM119.2 449.4h1v1h-1zM128.8 444.3h1v1h-1zM139.7 442.1h1v1h-1zM142.6 435.1h1v1h-1zM140.6 457.3h1v1h-1zM146.5 431.1h1v1h-1zM119.4 458.4h1v1h-1zM134.4 457.7h1v1h-1zM148.0 440.6h1v1h-1zM147.1 445.4h1v1h-1zM157.7 443.7h1v1h-1zM142.2 441.5h1v1h-1zM160.3 446.9h1v1h-1zM125.0 434.6h1v1h-1zM145.0 434.7h1v1h-1zM134.4 431.9h1v1h-1zM136.1 443.6h1v1h-1zM154.9 440.1h1v1h-1zM147.5 435.8h1v1h-1zM142.7 456.3h1v1h-1zM119.3 456.2h1v1h-1zM136.2 446.2h1v1h-1zM134.8 445.8h1v1h-1zM141.4 430.3h1v1h-1zM154.2 445.9h1v1h-1zM149.0 448.6h1v1h-1zM156.5 439.8h1v1h-1zM119.6 428.2h1v1h-1zM160.2 446.0h1v1h-1zM141.5 436.3h1v1h-1zM140.5 440.2h1v1h-1zM134.9 434.1h1v1h-1zM172.5 441.9h1v1h-1zM130.9 428.9h1v1h-1zM129.1 446.1h1v1h-1zM151.4 438.1h1v1h-1zM140.8 437.4h1v1h-1zM123.4 451.1h1v1h-1zM145.6 461.0h1v1h-1zM128.7 438.8h1v1h-1zM153.2 437.9h1v1h-1zM119.2 431.9h1v1h-1zM141.5 442.9h1v1h-1zM138.6 448.5h1v1h-1zM154.9 442.7h1v1h-1zM140.4 437.9h1v1h-1zM148.3 447.8h1v1h-1zM140.9 443.8h1v1h-1zM135.1 428.0h1v1h-1zM125.0 446.5h1v1h-1zM146.7 453.5h1v1h-1zM140.8 447.4h1v1h-1zM159.8 448.5h1v1h-1zM130.9 438.4h1v1h-1zM141.9 431.6h1v1h-1zM147.1 448.7h1v1h-1zM132.8 456.8h1v1h-1zM135.6 438.3h1v1h-1zM136.4 434.0h1v1h-1zM146.3 440.2h1v1h-1zM164.9 445.2h1v1h-1zM148.1 438.1h1v1h-1zM118.8 439.2h1v1h-1zM127.2 448.1h1v1h-1zM139.5 454.2h1v1h-1zM151.0 447.1h1v1h-1zM143.5 441.8h1v1h-1zM149.8 447.8h1v1h-1zM129.3 444.2h1v1h-1zM136.2 434.1h1v1h-1zM118.3 450.1h1v1h-1zM140.9 442.5h1v1h-1zM167.7 461.3h1v1h-1zM126.7 449.0h1v1h-1zM149.4 443.4h1v1h-1zM147.2 439.8h1v1h-1zM163.9 445.2h1v1h-1zM145.2 450.6h1v1h-1zM153.5 443.9h1v1h-1zM144.9 454.9h1v1h-1zM147.7 439.3h1v1h-1zM127.2 437.1h1v1h-1zM124.3 440.9h1v1h-1zM143.9 422.6h1v1h-1zM140.3 445.5h1v1h-1zM142.5 431.9h1v1h-1zM159.1 434.1h1v1h-1zM121.6 430.8h1v1h-1zM139.8 448.4h1v1h-1zM157.5 441.8h1v1h-1zM122.1 434.4h1v1h-1zM126.6 438.5h1v1h-1zM113.4 441.0h1v1h-1zM149.7 438.7h1v1h-1zM146.9 432.0h1v1h-1zM118.2 434.6h1v1h-1zM157.4 448.8h1v1h-1zM133.2 450.2h1v1h-1zM135.1 452.9h1v1h-1zM147.3 436.2h1v1h-1zM151.9 433.4h1v1h-1zM126.0 427.7h1v1h-1zM143.9 439.5h1v1h-1zM138.8 436.5h1v1h-1zM161.6 436.4h1v1h-1zM129.1 450.6h1v1h-1zM161.3 442.9h1v1h-1zM113.9 434.9h1v1h-1zM149.2 440.2h1v1h-1zM163.3 428.4h1v1h-1zM150.2 434.7h1v1h-1zM159.8 439.4h1v1h-1zM155.5 434.5h1v1h-1zM118.9 430.6h1v1h-1zM130.9 431.3h1v1h-1zM158.0 451.4h1v1h-1zM144.1 431.2h1v1h-1zM138.2 434.2h1v1h-1zM161.8 442.7h1v1h-1zM147.3 436.6h1v1h-1zM109.8 433.4h1v1h-1zM123.3 443.1h1v1h-1zM141.4 433.2h1v1h-1zM134.2 453.3h1v1h-1zM125.6 432.2h1v1h-1zM136.6 434.1h1v1h-1zM133.6 444.5h1v1h-1zM166.0 424.9h1v1h-1zM139.7 440.4h1v1h-1zM138.7 438.4h1v1h-1zM134.9 448.5h1v1h-1zM133.0 438.9h1v1h-1zM140.0 440.9h1v1h-1zM137.4 448.5h1v1h-1zM139.9 441.5h1v1h-1zM139.2 431.5h1v1h-1zM127.6 431.1h1v1h-1zM142.9 433.9h1v1h-1zM124.1 442.0h1v1h-1zM147.9 425.0h1v1h-1zM165.3 440.3h1v1h-1zM138.4 449.1h1v1h-1zM141.0 434.9h1v1h-1zM138.5 447.2h1v1h-1zM124.0 439.1h1v1h-1zM145.8 460.4h1v1h-1zM126.6 439.6h1v1h-1zM149.9 440.7h1v1h-1zM122.0 443.5h1v1h-1zM141.6 443.8h1v1h-1zM157.0 448.6h1v1h-1zM146.1 442.6h1v1h-1zM123.5 438.9h1v1h-1zM143.3 436.6h1v1h-1zM141.5 433.0h1v1h-1zM163.0 458.3h1v1h-1zM134.2 443.4h1v1h-1zM136.5 450.7h1v1h-1zM146.5 440.7h1v1h-1zM136.6 441.1h1v1h-1zM125.0 445.7h1v1h-1zM129.3 444.5h1v1h-1zM141.9 449.3h1v1h-1zM139.7 448.7h1v1h-1zM126.2 445.2h1v1h-1zM136.6 441.7h1v1h-1zM141.1 448.0h1v1h-1zM109.7 442.7h1v1h-1zM117.6 450.3h1v1h-1zM110.4 431.5h1v1h-1zM114.9 453.9h1v1h-1zM120.7 441.0h1v1h-1zM132.0 424.7h1v1h-1zM134.9 445.6h1v1h-1zM137.2 448.0h1v1h-1zM134.6 440.1h1v1h-1zM134.2 442.9h1v1h-1zM168.5 443.1h1v1h-1zM142.9 434.7h1v1h-1zM128.7 452.4h1v1h-1zM123.3 432.2h1v1h-1zM138.5 436.4h1v1h-1zM169.3 419.9h1v1h-1zM145.4 446.1h1v1h-1zM123.2 434.5h1v1h-1zM146.5 453.9h1v1h-1zM126.2 426.6h1v1h-1zM154.6 453.0h1v1h-1zM161.8 438.3h1v1h-1zM156.9 439.6h1v1h-1zM134.4 436.2h1v1h-1zM204.2 438.6h1v1h-1zM170.2 431.6h1v1h-1zM187.5 429.4h1v1h-1zM179.2 459.1h1v1h-1zM202.1 425.6h1v1h-1zM175.1 431.6h1v1h-1zM180.2 436.9h1v1h-1zM172.1 421.3h1v1h-1zM179.4 435.3h1v1h-1zM177.4 453.8h1v1h-1zM177.6 444.3h1v1h-1zM172.1 441.0h1v1h-1zM178.5 440.5h1v1h-1zM208.0 435.2h1v1h-1zM172.6 444.5h1v1h-1zM192.2 432.3h1v1h-1zM172.2 429.3h1v1h-1zM170.5 435.1h1v1h-1zM177.1 444.0h1v1h-1zM179.4 437.6h1v1h-1zM207.8 441.4h1v1h-1zM170.2 411.7h1v1h-1zM181.7 447.1h1v1h-1zM186.1 459.7h1v1h-1zM177.3 448.7h1v1h-1zM187.8 430.5h1v1h-1zM172.4 424.7h1v1h-1zM176.6 437.1h1v1h-1zM171.1 423.1h1v1h-1zM188.1 442.0h1v1h-1zM170.5 428.2h1v1h-1zM170.9 444.6h1v1h-1zM193.8 449.0h1v1h-1zM179.6 411.6h1v1h-1zM176.3 437.2h1v1h-1zM171.2 426.3h1v1h-1zM172.2 418.5h1v1h-1zM191.0 427.2h1v1h-1zM174.7 431.6h1v1h-1zM181.4 445.4h1v1h-1zM177.2 417.3h1v1h-1zM173.6 445.6h1v1h-1zM173.2 440.6h1v1h-1zM177.2 440.0h1v1h-1zM181.9 433.9h1v1h-1zM181.4 421.1h1v1h-1zM176.3 439.9h1v1h-1zM171.9 438.2h1v1h-1zM176.8 442.0h1v1h-1zM187.8 462.3h1v1h-1zM170.6 442.0h1v1h-1zM180.3 438.7h1v1h-1zM184.4 451.2h1v1h-1zM204.6 384.1h1v1h-1zM169.1 386.8h1v1h-1zM183.2 397.3h1v1h-1zM177.6 369.2h1v1h-1zM154.4 384.4h1v1h-1zM151.3 378.3h1v1h-1zM203.1 393.3h1v1h-1zM171.4 380.6h1v1h-1zM193.2 387.7h1v1h-1zM176.0 380.8h1v1h-1zM202.8 389.3h1v1h-1zM162.3 392.1h1v1h-1zM180.5 380.8h1v1h-1zM184.5 384.4h1v1h-1zM200.0 372.6h1v1h-1zM151.9 386.4h1v1h-1zM172.8 390.9h1v1h-1zM179.9 379.6h1v1h-1zM187.1 393.0h1v1h-1zM158.9 367.4h1v1h-1zM184.2 369.2h1v1h-1zM193.7 372.9h1v1h-1zM196.2 380.1h1v1h-1zM164.1 384.1h1v1h-1zM177.8 383.4h1v1h-1zM168.8 383.5h1v1h-1zM174.4 389.8h1v1h-1zM172.9 380.2h1v1h-1zM209.5 373.9h1v1h-1zM150.8 374.0h1v1h-1zM209.7 400.9h1v1h-1zM152.1 365.2h1v1h-1zM154.9 382.6h1v1h-1zM163.0 395.7h1v1h-1zM168.1 387.9h1v1h-1zM204.0 377.4h1v1h-1zM203.0 384.0h1v1h-1zM208.9 390.9h1v1h-1zM174.6 393.7h1v1h-1zM151.0 376.8h1v1h-1z" fill="#000" fill-opacity="0.8"/>
<line x1="169.5" y1="295.0" x2="169.5" y2="469.2" stroke="#333" stroke-width="1.6"/>
<line x1="106.2" y1="404.8" x2="280.3" y2="404.8" stroke="#444" stroke-width="1.6"/>
<line x1="106.2" y1="295.0" x2="106.2" y2="469.7" stroke="#777" stroke-width="1"/>
<line x1="105.7" y1="469.2" x2="280.3" y2="469.2" stroke="#777" stroke-width="1"/>
<path d="M106.2,469.2 v4.5 M106.2,468.6 h-4.5 M137.4,469.2 v4.5 M106.2,436.6 h-4.5 M169.5,469.2 v4.5 M106.2,404.5 h-4.5 M201.6,469.2 v4.5 M106.2,372.5 h-4.5 M233.6,469.2 v4.5 M106.2,340.4 h-4.5 M265.6,469.2 v4.5 M106.2,308.4 h-4.5 " stroke="#222" stroke-width="1.8" fill="none"/>
<path d="M115.0,469.2 v2.6 M106.2,459.0 h-2.4 M120.7,469.2 v2.6 M106.2,453.3 h-2.4 M124.7,469.2 v2.6 M106.2,449.3 h-2.4 M127.8,469.2 v2.6 M106.2,446.2 h-2.4 M130.3,469.2 v2.6 M106.2,443.7 h-2.4 M132.5,469.2 v2.6 M106.2,441.5 h-2.4 M134.3,469.2 v2.6 M106.2,439.7 h-2.4 M136.0,469.2 v2.6 M106.2,438.0 h-2.4 M147.1,469.2 v2.6 M106.2,426.9 h-2.4 M152.7,469.2 v2.6 M106.2,421.3 h-2.4 M156.7,469.2 v2.6 M106.2,417.3 h-2.4 M159.9,469.2 v2.6 M106.2,414.1 h-2.4 M162.4,469.2 v2.6 M106.2,411.6 h-2.4 M164.5,469.2 v2.6 M106.2,409.5 h-2.4 M166.4,469.2 v2.6 M106.2,407.6 h-2.4 M168.0,469.2 v2.6 M106.2,406.0 h-2.4 M179.1,469.2 v2.6 M106.2,394.9 h-2.4 M184.8,469.2 v2.6 M106.2,389.2 h-2.4 M188.8,469.2 v2.6 M106.2,385.2 h-2.4 M191.9,469.2 v2.6 M106.2,382.1 h-2.4 M194.4,469.2 v2.6 M106.2,379.6 h-2.4 M196.6,469.2 v2.6 M106.2,377.4 h-2.4 M198.4,469.2 v2.6 M106.2,375.6 h-2.4 M200.1,469.2 v2.6 M106.2,373.9 h-2.4 M211.2,469.2 v2.6 M106.2,362.8 h-2.4 M216.8,469.2 v2.6 M106.2,357.2 h-2.4 M220.8,469.2 v2.6 M106.2,353.2 h-2.4 M224.0,469.2 v2.6 M106.2,350.0 h-2.4 M226.5,469.2 v2.6 M106.2,347.5 h-2.4 M228.6,469.2 v2.6 M106.2,345.4 h-2.4 M230.5,469.2 v2.6 M106.2,343.5 h-2.4 M232.1,469.2 v2.6 M106.2,341.9 h-2.4 M243.2,469.2 v2.6 M106.2,330.8 h-2.4 M248.9,469.2 v2.6 M106.2,325.1 h-2.4 M252.9,469.2 v2.6 M106.2,321.1 h-2.4 M256.0,469.2 v2.6 M106.2,318.0 h-2.4 M258.5,469.2 v2.6 M106.2,315.5 h-2.4 M260.7,469.2 v2.6 M106.2,313.3 h-2.4 M262.5,469.2 v2.6 M106.2,311.5 h-2.4 M264.2,469.2 v2.6 M106.2,309.8 h-2.4 M275.3,469.2 v2.6 M106.2,298.7 h-2.4 " stroke="#555" stroke-width="1.1" fill="none"/>
<text x="109.7" y="489.0" font-size="7.2" fill="#333" stroke="#333" stroke-width="0.25">10<tspan font-size="6.2" dy="-5.0">0</tspan></text>
<text x="86.4" y="468.7" font-size="7.2" fill="#333" stroke="#333" stroke-width="0.25">10<tspan font-size="6.2" dy="-5.2">0</tspan></text>
<text x="134.5" y="489.0" font-size="7.2" fill="#333" stroke="#333" stroke-width="0.25">10<tspan font-size="6.2" dy="-5.0">1</tspan></text>
<text x="86.4" y="441.4" font-size="7.2" fill="#333" stroke="#333" stroke-width="0.25">10<tspan font-size="6.2" dy="-5.2">1</tspan></text>
<text x="166.7" y="489.0" font-size="7.2" fill="#333" stroke="#333" stroke-width="0.25">10<tspan font-size="6.2" dy="-5.0">2</tspan></text>
<text x="86.4" y="409.3" font-size="7.2" fill="#333" stroke="#333" stroke-width="0.25">10<tspan font-size="6.2" dy="-5.2">2</tspan></text>
<text x="198.7" y="489.0" font-size="7.2" fill="#333" stroke="#333" stroke-width="0.25">10<tspan font-size="6.2" dy="-5.0">3</tspan></text>
<text x="86.4" y="377.3" font-size="7.2" fill="#333" stroke="#333" stroke-width="0.25">10<tspan font-size="6.2" dy="-5.2">3</tspan></text>
<text x="230.8" y="489.0" font-size="7.2" fill="#333" stroke="#333" stroke-width="0.25">10<tspan font-size="6.2" dy="-5.0">4</tspan></text>
<text x="86.4" y="345.2" font-size="7.2" fill="#333" stroke="#333" stroke-width="0.25">10<tspan font-size="6.2" dy="-5.2">4</tspan></text>
<text x="262.9" y="489.0" font-size="7.2" fill="#333" stroke="#333" stroke-width="0.25">10<tspan font-size="6.2" dy="-5.0">5</tspan></text>
<text x="86.4" y="313.2" font-size="7.2" fill="#333" stroke="#333" stroke-width="0.25">10<tspan font-size="6.2" dy="-5.2">5</tspan></text>
<text x="119.01" y="420.00" font-size="11.2" font-weight="bold" fill="#222" textLength="40.86" lengthAdjust="spacingAndGlyphs" style="white-space:pre" >90.26 %</text>
<text transform="translate(68.50,403.50) rotate(-90)" x="-0.64" y="0" font-size="15.8" font-weight="bold" fill="#000" textLength="48.58" lengthAdjust="spacingAndGlyphs" >7-AAD</text>
<text x="153.50" y="512.00" font-size="15.8" font-weight="bold" fill="#000" textLength="77.77" lengthAdjust="spacingAndGlyphs" style="white-space:pre" >Annexin V</text>
<path d="M413.9,295.0 H588.0 V469.2" fill="none" stroke="#bbb" stroke-width="1"/>
<path d="M536.0 360.2h1v1h-1zM539.0 365.4h1v1h-1zM527.0 352.8h1v1h-1zM533.9 367.7h1v1h-1zM535.4 360.2h1v1h-1zM547.7 353.0h1v1h-1zM536.7 356.2h1v1h-1zM530.6 359.9h1v1h-1zM541.1 354.0h1v1h-1zM525.5 352.2h1v1h-1zM533.6 357.0h1v1h-1zM532.9 354.1h1v1h-1zM527.9 364.7h1v1h-1zM529.2 362.6h1v1h-1zM534.0 357.5h1v1h-1zM519.0 365.2h1v1h-1zM531.9 364.1h1v1h-1zM514.5 352.9h1v1h-1zM513.8 356.7h1v1h-1zM538.2 361.5h1v1h-1zM530.0 360.1h1v1h-1zM535.8 357.6h1v1h-1zM533.2 359.9h1v1h-1zM513.7 359.1h1v1h-1zM540.2 356.7h1v1h-1zM528.9 356.7h1v1h-1zM527.0 365.2h1v1h-1zM527.8 354.8h1v1h-1zM506.7 358.8h1v1h-1zM514.7 352.1h1v1h-1zM536.4 362.4h1v1h-1zM516.2 364.8h1v1h-1zM533.3 355.5h1v1h-1zM535.0 351.2h1v1h-1zM520.6 353.4h1v1h-1zM522.3 364.4h1v1h-1zM519.8 354.9h1v1h-1zM523.2 361.1h1v1h-1zM528.0 363.8h1v1h-1zM524.3 353.8h1v1h-1zM526.4 360.0h1v1h-1zM523.3 361.4h1v1h-1zM543.5 355.5h1v1h-1zM531.0 365.9h1v1h-1zM524.9 355.8h1v1h-1zM522.1 362.1h1v1h-1zM533.9 358.4h1v1h-1zM530.9 365.5h1v1h-1zM536.0 352.2h1v1h-1zM530.0 359.9h1v1h-1zM535.3 357.9h1v1h-1zM525.0 357.6h1v1h-1zM516.7 360.4h1v1h-1zM525.7 362.0h1v1h-1zM522.1 358.0h1v1h-1zM522.2 354.9h1v1h-1zM535.0 356.7h1v1h-1zM532.8 353.7h1v1h-1zM529.9 351.2h1v1h-1zM526.1 357.3h1v1h-1zM534.3 359.8h1v1h-1zM528.9 363.5h1v1h-1zM531.5 361.8h1v1h-1zM535.6 358.5h1v1h-1zM527.8 361.1h1v1h-1zM526.9 361.4h1v1h-1zM538.5 362.7h1v1h-1zM526.5 353.4h1v1h-1zM529.4 358.7h1v1h-1zM537.9 356.8h1v1h-1zM528.6 363.0h1v1h-1zM526.2 358.9h1v1h-1zM543.2 365.3h1v1h-1zM534.6 360.2h1v1h-1zM522.8 362.6h1v1h-1zM530.4 360.3h1v1h-1zM526.0 359.6h1v1h-1zM528.6 360.9h1v1h-1zM540.6 360.1h1v1h-1zM517.1 355.8h1v1h-1zM517.7 356.6h1v1h-1zM534.2 360.9h1v1h-1zM525.5 361.0h1v1h-1zM523.6 353.0h1v1h-1zM519.0 356.1h1v1h-1zM539.9 352.0h1v1h-1zM539.6 364.8h1v1h-1zM528.4 359.2h1v1h-1zM525.2 359.6h1v1h-1zM534.7 358.9h1v1h-1zM537.7 364.3h1v1h-1zM532.5 360.6h1v1h-1zM529.5 361.0h1v1h-1zM521.7 361.9h1v1h-1zM531.0 355.0h1v1h-1zM545.4 353.2h1v1h-1zM523.4 361.2h1v1h-1zM515.0 356.8h1v1h-1zM518.0 355.7h1v1h-1zM528.9 360.9h1v1h-1zM538.3 362.4h1v1h-1zM538.9 361.3h1v1h-1zM526.8 364.9h1v1h-1zM525.9 356.7h1v1h-1zM541.5 362.0h1v1h-1zM531.7 362.7h1v1h-1zM535.8 352.2h1v1h-1zM528.6 353.7h1v1h-1zM530.4 356.0h1v1h-1zM540.1 360.9h1v1h-1zM523.7 359.7h1v1h-1zM520.7 360.3h1v1h-1zM534.0 360.2h1v1h-1zM515.2 358.9h1v1h-1zM533.7 360.4h1v1h-1zM537.9 352.4h1v1h-1zM533.4 355.8h1v1h-1zM531.4 361.1h1v1h-1zM534.6 356.1h1v1h-1zM530.6 353.6h1v1h-1zM519.4 362.8h1v1h-1zM528.7 351.6h1v1h-1zM523.4 359.9h1v1h-1zM541.8 363.2h1v1h-1zM535.0 350.2h1v1h-1zM529.2 361.6h1v1h-1zM532.9 361.0h1v1h-1zM528.7 367.8h1v1h-1zM540.7 357.8h1v1h-1zM523.3 369.7h1v1h-1zM526.1 365.3h1v1h-1zM543.6 353.5h1v1h-1zM531.8 357.4h1v1h-1zM533.7 360.5h1v1h-1zM544.5 360.8h1v1h-1zM530.1 364.6h1v1h-1zM527.6 357.7h1v1h-1zM546.1 353.9h1v1h-1zM526.1 359.8h1v1h-1zM521.0 349.9h1v1h-1zM537.3 354.8h1v1h-1zM525.5 357.8h1v1h-1zM522.0 354.8h1v1h-1zM531.9 370.6h1v1h-1zM535.6 362.3h1v1h-1zM518.5 360.1h1v1h-1zM521.2 363.7h1v1h-1zM528.0 359.6h1v1h-1zM528.8 356.5h1v1h-1zM518.6 363.0h1v1h-1zM518.9 354.5h1v1h-1zM527.2 356.1h1v1h-1zM532.1 363.9h1v1h-1zM531.7 360.0h1v1h-1zM530.3 363.3h1v1h-1zM516.1 362.2h1v1h-1zM522.2 354.0h1v1h-1zM529.6 357.4h1v1h-1zM534.6 364.1h1v1h-1zM512.3 360.4h1v1h-1zM544.7 362.1h1v1h-1zM540.6 358.8h1v1h-1zM518.5 354.8h1v1h-1zM535.5 363.4h1v1h-1zM524.2 358.5h1v1h-1zM531.0 350.7h1v1h-1zM527.8 367.2h1v1h-1zM546.0 357.3h1v1h-1zM543.2 355.5h1v1h-1zM522.7 349.1h1v1h-1zM536.7 356.8h1v1h-1zM547.4 359.3h1v1h-1zM530.4 350.5h1v1h-1zM540.8 356.5h1v1h-1zM527.6 348.8h1v1h-1zM537.1 363.4h1v1h-1zM525.3 360.1h1v1h-1zM533.1 363.6h1v1h-1zM531.3 367.4h1v1h-1zM527.7 356.5h1v1h-1zM525.2 347.4h1v1h-1zM524.1 364.6h1v1h-1zM531.4 355.2h1v1h-1zM531.5 349.4h1v1h-1zM527.9 362.0h1v1h-1zM534.7 355.1h1v1h-1zM537.4 367.6h1v1h-1zM526.9 363.1h1v1h-1zM517.3 350.9h1v1h-1zM534.4 359.1h1v1h-1zM531.0 356.4h1v1h-1zM527.9 363.4h1v1h-1zM542.5 357.1h1v1h-1zM518.0 366.5h1v1h-1zM534.6 362.2h1v1h-1zM532.1 370.3h1v1h-1zM530.6 361.7h1v1h-1zM515.7 357.7h1v1h-1zM524.6 359.6h1v1h-1zM532.1 355.5h1v1h-1zM542.3 353.1h1v1h-1zM526.5 360.7h1v1h-1zM520.7 362.8h1v1h-1zM534.4 357.5h1v1h-1zM544.1 358.4h1v1h-1zM531.5 354.5h1v1h-1zM517.0 357.4h1v1h-1zM527.2 357.3h1v1h-1zM534.5 347.4h1v1h-1zM520.6 351.3h1v1h-1zM539.6 355.7h1v1h-1zM525.5 354.4h1v1h-1zM536.3 356.7h1v1h-1zM530.6 349.4h1v1h-1zM538.7 360.4h1v1h-1zM534.4 364.8h1v1h-1zM528.3 358.6h1v1h-1zM535.4 360.9h1v1h-1zM528.0 359.7h1v1h-1zM526.3 363.0h1v1h-1zM536.8 358.7h1v1h-1zM543.2 350.7h1v1h-1zM528.8 367.6h1v1h-1zM526.0 351.9h1v1h-1zM540.5 361.0h1v1h-1zM521.2 363.8h1v1h-1zM521.6 353.5h1v1h-1zM528.5 357.1h1v1h-1zM521.4 358.3h1v1h-1zM522.3 360.2h1v1h-1zM530.0 362.9h1v1h-1zM525.9 353.2h1v1h-1zM519.8 359.0h1v1h-1zM541.7 362.4h1v1h-1zM525.4 364.2h1v1h-1zM521.6 364.9h1v1h-1zM527.3 363.2h1v1h-1zM534.4 357.6h1v1h-1zM531.8 354.0h1v1h-1zM529.7 364.5h1v1h-1zM560.8 360.0h1v1h-1zM530.1 354.4h1v1h-1zM537.1 350.7h1v1h-1zM524.0 361.6h1v1h-1zM521.4 367.5h1v1h-1zM537.8 355.9h1v1h-1zM525.1 353.3h1v1h-1zM519.5 362.4h1v1h-1zM534.7 360.6h1v1h-1zM531.6 356.4h1v1h-1zM531.9 352.0h1v1h-1zM530.5 366.4h1v1h-1zM539.6 356.2h1v1h-1zM527.9 366.1h1v1h-1zM542.6 351.0h1v1h-1zM526.7 360.7h1v1h-1zM538.6 354.5h1v1h-1zM534.5 357.4h1v1h-1zM547.8 359.8h1v1h-1zM528.7 357.8h1v1h-1zM538.0 361.9h1v1h-1zM521.8 361.1h1v1h-1zM519.5 356.6h1v1h-1zM519.6 353.8h1v1h-1zM524.3 355.1h1v1h-1zM534.1 362.8h1v1h-1zM527.6 354.1h1v1h-1zM535.0 349.1h1v1h-1zM515.7 364.1h1v1h-1zM535.2 363.6h1v1h-1zM527.7 353.4h1v1h-1zM526.3 362.4h1v1h-1zM523.8 356.4h1v1h-1zM518.9 354.6h1v1h-1zM536.4 360.9h1v1h-1zM520.7 354.9h1v1h-1zM525.9 362.3h1v1h-1zM521.0 359.3h1v1h-1zM513.2 354.7h1v1h-1zM533.4 363.4h1v1h-1zM520.8 356.4h1v1h-1zM535.7 356.9h1v1h-1zM526.0 362.2h1v1h-1zM531.8 364.5h1v1h-1zM535.6 356.0h1v1h-1zM528.9 359.1h1v1h-1zM519.3 355.5h1v1h-1zM536.5 351.1h1v1h-1zM537.4 360.0h1v1h-1zM529.0 362.0h1v1h-1zM533.9 364.8h1v1h-1zM526.8 358.5h1v1h-1zM528.8 368.5h1v1h-1zM536.6 354.3h1v1h-1zM527.1 356.2h1v1h-1zM530.1 360.3h1v1h-1zM546.3 349.1h1v1h-1zM537.8 360.8h1v1h-1zM524.6 359.1h1v1h-1zM526.2 359.9h1v1h-1zM536.8 351.4h1v1h-1zM539.6 356.7h1v1h-1zM541.3 360.3h1v1h-1zM539.4 361.3h1v1h-1zM538.1 358.9h1v1h-1zM524.0 363.1h1v1h-1zM536.1 369.0h1v1h-1zM514.8 359.7h1v1h-1zM537.4 352.7h1v1h-1zM529.1 369.7h1v1h-1zM540.2 354.2h1v1h-1zM541.1 364.1h1v1h-1zM535.9 360.7h1v1h-1zM531.4 355.0h1v1h-1zM526.4 363.2h1v1h-1zM531.8 368.1h1v1h-1zM526.5 348.1h1v1h-1zM527.6 360.9h1v1h-1zM532.9 359.5h1v1h-1zM524.4 367.1h1v1h-1zM525.3 363.2h1v1h-1zM527.3 353.8h1v1h-1zM539.5 346.4h1v1h-1zM523.8 362.0h1v1h-1zM527.6 363.2h1v1h-1zM529.1 357.3h1v1h-1zM546.1 356.9h1v1h-1zM528.4 354.3h1v1h-1zM524.7 363.0h1v1h-1zM534.2 359.0h1v1h-1zM525.1 363.2h1v1h-1zM517.2 358.9h1v1h-1zM527.8 355.5h1v1h-1zM530.9 356.1h1v1h-1zM524.8 368.6h1v1h-1zM536.1 364.7h1v1h-1zM530.9 364.0h1v1h-1zM536.4 364.7h1v1h-1zM547.7 356.8h1v1h-1zM532.0 359.0h1v1h-1zM503.3 355.1h1v1h-1zM530.5 362.5h1v1h-1zM526.3 365.3h1v1h-1zM539.6 356.7h1v1h-1zM541.5 366.9h1v1h-1zM533.2 354.5h1v1h-1zM541.1 357.7h1v1h-1zM527.4 360.3h1v1h-1zM526.6 365.0h1v1h-1zM536.5 364.8h1v1h-1zM534.2 355.3h1v1h-1zM529.4 363.8h1v1h-1zM528.4 373.7h1v1h-1zM528.1 356.9h1v1h-1zM539.1 362.3h1v1h-1zM529.9 358.4h1v1h-1zM533.7 363.2h1v1h-1zM535.8 357.6h1v1h-1zM533.8 363.3h1v1h-1zM534.6 344.2h1v1h-1zM523.2 356.4h1v1h-1zM528.6 360.5h1v1h-1zM537.3 361.9h1v1h-1zM529.3 359.7h1v1h-1zM543.1 355.4h1v1h-1zM533.1 366.8h1v1h-1zM531.9 349.5h1v1h-1zM532.8 357.4h1v1h-1zM529.8 364.6h1v1h-1zM533.6 357.9h1v1h-1zM537.0 361.0h1v1h-1zM531.1 360.9h1v1h-1zM531.9 357.7h1v1h-1zM526.8 359.9h1v1h-1zM522.5 354.1h1v1h-1zM539.8 357.5h1v1h-1zM530.0 358.9h1v1h-1zM530.4 359.6h1v1h-1zM530.3 355.6h1v1h-1zM536.9 355.6h1v1h-1zM537.1 349.6h1v1h-1zM522.7 364.9h1v1h-1zM528.8 356.4h1v1h-1zM532.6 354.3h1v1h-1zM529.8 348.9h1v1h-1zM526.5 356.7h1v1h-1zM534.6 363.3h1v1h-1zM524.5 367.8h1v1h-1zM524.9 350.1h1v1h-1zM513.1 368.4h1v1h-1zM529.3 356.5h1v1h-1zM524.2 354.8h1v1h-1zM540.3 358.2h1v1h-1zM543.5 357.4h1v1h-1zM513.0 365.1h1v1h-1zM527.3 358.6h1v1h-1zM541.8 357.2h1v1h-1zM538.9 358.7h1v1h-1zM524.8 362.4h1v1h-1zM526.2 365.8h1v1h-1zM537.4 359.2h1v1h-1zM535.0 361.8h1v1h-1zM528.5 364.0h1v1h-1zM528.8 362.6h1v1h-1zM523.1 360.6h1v1h-1zM533.0 355.5h1v1h-1zM526.9 357.2h1v1h-1zM535.4 355.6h1v1h-1zM534.1 366.5h1v1h-1zM532.2 351.6h1v1h-1zM531.6 364.4h1v1h-1zM528.6 365.0h1v1h-1zM535.0 361.1h1v1h-1zM528.1 357.3h1v1h-1zM528.4 360.0h1v1h-1zM534.4 361.2h1v1h-1zM528.1 360.1h1v1h-1zM532.5 351.5h1v1h-1zM524.2 356.2h1v1h-1zM528.7 358.4h1v1h-1zM528.0 355.5h1v1h-1zM535.4 360.4h1v1h-1zM518.0 360.7h1v1h-1zM522.6 368.4h1v1h-1zM526.7 358.0h1v1h-1zM530.9 358.6h1v1h-1zM530.5 367.0h1v1h-1zM532.4 363.4h1v1h-1zM538.3 354.2h1v1h-1zM543.2 361.8h1v1h-1zM537.1 354.8h1v1h-1zM536.6 361.0h1v1h-1zM527.3 370.8h1v1h-1zM534.5 358.1h1v1h-1zM532.2 363.8h1v1h-1zM539.0 361.6h1v1h-1zM540.1 365.8h1v1h-1zM520.9 358.1h1v1h-1zM523.4 360.7h1v1h-1zM541.4 361.8h1v1h-1zM522.4 358.9h1v1h-1zM537.8 356.4h1v1h-1zM529.8 361.1h1v1h-1zM517.1 364.5h1v1h-1zM533.2 362.1h1v1h-1zM522.7 356.5h1v1h-1zM526.0 361.2h1v1h-1zM530.9 360.1h1v1h-1zM544.3 364.7h1v1h-1zM524.7 356.9h1v1h-1zM543.0 356.9h1v1h-1zM541.3 366.3h1v1h-1zM526.2 358.6h1v1h-1zM530.6 355.4h1v1h-1zM522.9 358.3h1v1h-1zM536.5 356.9h1v1h-1zM528.6 357.5h1v1h-1zM520.8 367.6h1v1h-1zM512.6 358.0h1v1h-1zM533.9 352.5h1v1h-1zM535.4 365.2h1v1h-1zM524.0 361.1h1v1h-1zM522.3 362.7h1v1h-1zM531.1 360.6h1v1h-1zM540.8 360.9h1v1h-1zM540.7 361.7h1v1h-1zM521.5 361.6h1v1h-1zM533.4 352.3h1v1h-1zM540.3 359.0h1v1h-1zM532.7 355.1h1v1h-1zM531.0 361.0h1v1h-1zM527.9 360.2h1v1h-1zM515.1 367.5h1v1h-1zM521.1 349.9h1v1h-1zM522.8 356.2h1v1h-1zM534.0 354.9h1v1h-1zM532.1 354.8h1v1h-1zM547.1 360.7h1v1h-1zM544.5 353.4h1v1h-1zM534.9 354.6h1v1h-1zM534.9 362.4h1v1h-1zM517.9 355.2h1v1h-1zM521.0 353.1h1v1h-1zM524.5 355.5h1v1h-1zM519.6 361.0h1v1h-1zM533.8 352.9h1v1h-1zM526.2 360.0h1v1h-1zM528.3 356.4h1v1h-1zM536.7 363.1h1v1h-1zM535.3 358.1h1v1h-1zM545.9 366.6h1v1h-1zM527.2 359.2h1v1h-1zM538.8 354.9h1v1h-1zM533.3 359.5h1v1h-1zM524.9 358.9h1v1h-1zM518.3 358.0h1v1h-1zM516.3 371.7h1v1h-1zM542.0 364.4h1v1h-1zM532.9 364.1h1v1h-1zM540.2 363.6h1v1h-1zM536.7 354.6h1v1h-1zM533.2 356.7h1v1h-1zM521.0 354.8h1v1h-1zM533.9 364.3h1v1h-1zM520.8 368.8h1v1h-1zM541.1 356.7h1v1h-1zM526.7 359.5h1v1h-1zM537.4 357.0h1v1h-1zM522.1 361.9h1v1h-1zM514.8 361.5h1v1h-1zM539.0 360.2h1v1h-1zM536.2 361.4h1v1h-1zM535.7 359.7h1v1h-1zM523.9 359.0h1v1h-1zM530.2 365.6h1v1h-1zM542.5 360.4h1v1h-1zM524.3 356.5h1v1h-1zM529.4 366.3h1v1h-1zM532.7 359.0h1v1h-1zM524.9 364.2h1v1h-1zM532.3 359.1h1v1h-1zM531.7 367.5h1v1h-1zM529.7 367.7h1v1h-1zM539.5 358.9h1v1h-1zM536.8 358.3h1v1h-1zM523.9 358.8h1v1h-1zM523.6 362.5h1v1h-1zM530.5 362.2h1v1h-1zM535.1 344.0h1v1h-1zM531.8 350.7h1v1h-1zM531.1 355.2h1v1h-1zM531.6 366.0h1v1h-1zM517.5 361.5h1v1h-1zM528.8 350.5h1v1h-1zM535.1 359.2h1v1h-1zM526.1 356.4h1v1h-1zM554.0 355.5h1v1h-1zM516.4 356.2h1v1h-1zM527.3 357.9h1v1h-1zM529.2 354.5h1v1h-1zM534.0 356.8h1v1h-1zM519.7 356.5h1v1h-1zM527.7 363.8h1v1h-1zM533.7 357.6h1v1h-1zM530.4 360.5h1v1h-1zM545.2 355.2h1v1h-1zM534.0 362.7h1v1h-1zM523.2 361.0h1v1h-1zM531.2 357.1h1v1h-1zM534.9 364.0h1v1h-1zM538.6 357.8h1v1h-1zM532.6 370.6h1v1h-1zM522.0 361.3h1v1h-1zM536.9 359.6h1v1h-1zM535.2 359.9h1v1h-1zM536.4 365.1h1v1h-1zM528.6 360.6h1v1h-1zM529.6 357.6h1v1h-1zM529.6 354.1h1v1h-1zM536.5 367.2h1v1h-1zM543.5 364.5h1v1h-1zM523.6 367.4h1v1h-1zM524.8 359.7h1v1h-1zM543.5 353.2h1v1h-1zM536.6 360.3h1v1h-1zM528.7 355.4h1v1h-1zM533.2 357.0h1v1h-1zM538.5 364.7h1v1h-1zM519.7 358.0h1v1h-1zM527.3 354.1h1v1h-1zM521.9 360.7h1v1h-1zM528.0 351.7h1v1h-1zM526.4 362.3h1v1h-1zM520.8 355.9h1v1h-1zM542.6 364.8h1v1h-1zM517.5 354.1h1v1h-1zM532.5 353.6h1v1h-1zM528.1 357.5h1v1h-1zM533.3 347.0h1v1h-1zM513.2 355.1h1v1h-1zM537.7 358.1h1v1h-1zM517.6 363.0h1v1h-1zM535.4 357.9h1v1h-1zM527.9 361.8h1v1h-1zM539.3 359.4h1v1h-1zM534.2 358.9h1v1h-1zM527.0 355.4h1v1h-1zM532.0 357.9h1v1h-1zM528.8 364.1h1v1h-1zM534.2 363.3h1v1h-1zM518.7 363.2h1v1h-1zM525.5 356.0h1v1h-1zM524.3 365.8h1v1h-1zM536.1 355.5h1v1h-1zM521.7 360.3h1v1h-1zM527.5 367.7h1v1h-1zM518.5 351.7h1v1h-1zM528.3 359.7h1v1h-1zM531.5 363.0h1v1h-1zM545.5 356.5h1v1h-1zM525.4 351.4h1v1h-1zM532.4 363.4h1v1h-1zM528.7 365.3h1v1h-1zM531.1 366.7h1v1h-1zM532.2 354.2h1v1h-1zM524.8 352.6h1v1h-1zM517.3 361.9h1v1h-1zM537.5 368.3h1v1h-1zM529.7 358.4h1v1h-1zM522.3 364.9h1v1h-1zM532.9 356.4h1v1h-1zM535.6 361.7h1v1h-1zM516.5 364.3h1v1h-1zM531.1 357.5h1v1h-1zM527.8 368.1h1v1h-1zM542.4 367.2h1v1h-1zM521.3 357.1h1v1h-1zM536.5 353.1h1v1h-1zM524.1 351.3h1v1h-1zM544.5 363.4h1v1h-1zM533.7 360.2h1v1h-1zM526.9 357.9h1v1h-1zM534.5 355.7h1v1h-1zM539.2 356.3h1v1h-1zM524.2 366.3h1v1h-1zM529.4 362.2h1v1h-1zM526.2 349.0h1v1h-1zM533.7 352.7h1v1h-1zM537.6 351.4h1v1h-1zM516.4 362.2h1v1h-1zM533.4 359.7h1v1h-1zM521.5 364.5h1v1h-1zM519.1 358.2h1v1h-1zM524.2 358.2h1v1h-1zM536.3 355.9h1v1h-1zM534.7 362.5h1v1h-1zM516.9 355.0h1v1h-1zM527.1 356.9h1v1h-1zM531.7 350.1h1v1h-1zM535.9 362.6h1v1h-1zM528.4 353.0h1v1h-1zM530.0 356.9h1v1h-1zM534.4 358.7h1v1h-1zM535.5 357.0h1v1h-1zM540.0 347.5h1v1h-1zM522.8 362.5h1v1h-1zM519.2 364.0h1v1h-1zM521.1 360.7h1v1h-1zM523.2 358.0h1v1h-1zM531.5 358.9h1v1h-1zM528.3 370.0h1v1h-1zM529.9 354.9h1v1h-1zM537.5 362.8h1v1h-1zM540.1 367.2h1v1h-1zM523.6 365.2h1v1h-1zM538.7 358.8h1v1h-1zM530.8 345.0h1v1h-1zM526.7 368.4h1v1h-1zM516.6 358.1h1v1h-1zM532.6 362.1h1v1h-1zM541.7 350.0h1v1h-1zM530.9 363.6h1v1h-1zM520.4 360.2h1v1h-1zM544.8 364.6h1v1h-1zM533.1 346.6h1v1h-1zM529.4 361.4h1v1h-1zM527.9 359.4h1v1h-1zM553.1 356.5h1v1h-1zM523.1 361.3h1v1h-1zM527.7 358.2h1v1h-1zM529.9 363.3h1v1h-1zM531.5 353.6h1v1h-1zM529.4 361.9h1v1h-1zM527.2 365.3h1v1h-1zM535.6 354.3h1v1h-1zM533.4 368.8h1v1h-1zM541.8 358.2h1v1h-1zM536.6 355.7h1v1h-1zM519.6 363.1h1v1h-1zM532.3 361.8h1v1h-1zM530.2 361.1h1v1h-1zM526.6 362.1h1v1h-1zM536.4 358.7h1v1h-1zM535.5 350.5h1v1h-1zM524.9 366.9h1v1h-1zM543.5 359.5h1v1h-1zM528.9 353.5h1v1h-1zM533.2 363.0h1v1h-1zM519.4 363.1h1v1h-1zM534.1 361.3h1v1h-1zM522.0 362.8h1v1h-1zM519.6 367.6h1v1h-1zM530.7 353.8h1v1h-1zM540.7 364.1h1v1h-1zM526.3 370.5h1v1h-1zM522.8 361.7h1v1h-1zM538.1 347.9h1v1h-1zM537.7 358.5h1v1h-1zM529.6 354.4h1v1h-1zM532.2 354.0h1v1h-1zM522.8 358.0h1v1h-1zM521.7 367.8h1v1h-1zM520.0 356.8h1v1h-1zM527.8 359.7h1v1h-1zM536.5 362.9h1v1h-1zM527.8 357.9h1v1h-1zM530.8 363.4h1v1h-1zM535.2 356.6h1v1h-1zM515.7 371.1h1v1h-1zM537.4 360.1h1v1h-1zM532.5 356.8h1v1h-1zM522.6 358.6h1v1h-1zM528.3 356.7h1v1h-1zM519.2 359.0h1v1h-1zM534.3 356.8h1v1h-1zM529.5 349.6h1v1h-1zM528.6 359.1h1v1h-1zM520.3 352.0h1v1h-1zM532.9 355.4h1v1h-1zM533.7 357.2h1v1h-1zM534.7 357.5h1v1h-1zM518.9 360.1h1v1h-1zM528.0 362.9h1v1h-1zM526.7 357.9h1v1h-1zM537.1 364.5h1v1h-1zM536.3 364.0h1v1h-1zM533.9 362.9h1v1h-1zM536.9 360.9h1v1h-1zM530.7 360.1h1v1h-1zM548.2 358.0h1v1h-1zM528.3 357.9h1v1h-1zM530.1 360.7h1v1h-1zM520.9 350.8h1v1h-1zM531.7 351.6h1v1h-1zM532.2 360.0h1v1h-1zM539.5 366.7h1v1h-1zM532.7 356.6h1v1h-1zM521.1 356.5h1v1h-1zM529.6 349.6h1v1h-1zM530.8 359.4h1v1h-1zM534.9 357.5h1v1h-1zM530.7 355.9h1v1h-1zM526.0 351.3h1v1h-1zM531.8 366.8h1v1h-1zM531.6 361.1h1v1h-1zM523.5 367.0h1v1h-1zM524.8 363.8h1v1h-1zM530.6 354.8h1v1h-1zM537.9 358.9h1v1h-1zM531.7 361.5h1v1h-1zM527.4 358.6h1v1h-1zM534.2 358.4h1v1h-1zM528.6 356.0h1v1h-1zM506.8 355.9h1v1h-1zM520.8 362.1h1v1h-1zM544.3 346.8h1v1h-1zM529.5 342.1h1v1h-1zM513.1 357.4h1v1h-1zM496.2 345.3h1v1h-1zM529.9 362.7h1v1h-1zM526.1 354.8h1v1h-1zM557.9 360.5h1v1h-1zM515.6 377.1h1v1h-1zM536.3 358.7h1v1h-1zM544.4 363.4h1v1h-1zM536.7 364.1h1v1h-1zM513.3 370.7h1v1h-1zM529.9 352.9h1v1h-1zM517.0 370.6h1v1h-1zM522.5 362.4h1v1h-1zM536.9 363.2h1v1h-1zM506.3 367.7h1v1h-1zM540.8 369.8h1v1h-1zM550.3 365.3h1v1h-1zM538.6 376.3h1v1h-1zM523.6 377.6h1v1h-1zM552.0 369.0h1v1h-1zM553.5 369.7h1v1h-1zM515.4 372.2h1v1h-1zM532.3 365.7h1v1h-1zM529.9 374.2h1v1h-1zM535.4 355.7h1v1h-1zM534.5 368.6h1v1h-1zM517.5 358.1h1v1h-1zM522.3 356.5h1v1h-1zM532.6 371.2h1v1h-1zM554.2 372.8h1v1h-1zM542.0 372.3h1v1h-1zM546.4 358.6h1v1h-1zM537.4 364.9h1v1h-1zM525.9 357.9h1v1h-1zM520.6 359.6h1v1h-1zM510.4 366.7h1v1h-1zM527.4 363.0h1v1h-1zM532.4 368.5h1v1h-1zM519.4 361.0h1v1h-1zM505.2 342.0h1v1h-1zM500.5 375.8h1v1h-1zM502.1 366.2h1v1h-1zM548.4 357.9h1v1h-1zM550.5 378.6h1v1h-1zM540.9 383.4h1v1h-1zM536.4 355.4h1v1h-1zM535.0 358.0h1v1h-1zM509.5 350.5h1v1h-1zM560.1 357.2h1v1h-1zM527.4 356.1h1v1h-1zM529.7 359.9h1v1h-1zM522.1 351.2h1v1h-1zM508.1 355.4h1v1h-1zM532.0 380.8h1v1h-1zM542.6 378.5h1v1h-1zM534.7 361.3h1v1h-1zM509.4 362.2h1v1h-1zM497.9 359.4h1v1h-1zM550.7 365.1h1v1h-1zM543.8 358.7h1v1h-1zM508.7 357.9h1v1h-1zM522.4 373.0h1v1h-1zM555.7 355.5h1v1h-1zM523.0 360.9h1v1h-1zM523.1 351.0h1v1h-1zM529.3 365.5h1v1h-1zM533.4 351.4h1v1h-1zM526.5 346.6h1v1h-1zM540.8 353.1h1v1h-1zM524.2 358.2h1v1h-1zM519.9 352.7h1v1h-1zM503.3 377.9h1v1h-1zM531.7 364.7h1v1h-1zM557.5 361.4h1v1h-1zM535.9 362.5h1v1h-1zM544.7 366.8h1v1h-1zM532.5 360.0h1v1h-1zM532.1 372.8h1v1h-1zM499.1 361.1h1v1h-1zM522.3 359.6h1v1h-1zM500.5 368.9h1v1h-1zM516.3 360.2h1v1h-1zM521.1 347.3h1v1h-1zM521.9 345.7h1v1h-1zM515.0 359.5h1v1h-1zM528.1 362.8h1v1h-1zM526.2 381.5h1v1h-1zM534.3 351.3h1v1h-1zM519.6 356.4h1v1h-1zM525.7 356.9h1v1h-1zM516.2 377.1h1v1h-1zM528.8 359.3h1v1h-1zM524.6 360.3h1v1h-1zM547.7 366.6h1v1h-1zM543.9 334.2h1v1h-1zM532.7 371.8h1v1h-1zM555.8 362.6h1v1h-1zM504.1 367.6h1v1h-1zM519.8 346.2h1v1h-1zM519.5 371.8h1v1h-1zM545.0 368.8h1v1h-1zM513.5 385.0h1v1h-1zM511.8 361.6h1v1h-1zM508.0 374.2h1v1h-1zM534.5 370.3h1v1h-1zM529.5 361.7h1v1h-1zM530.7 345.4h1v1h-1zM542.2 370.6h1v1h-1zM522.8 362.2h1v1h-1zM532.5 376.5h1v1h-1zM534.3 362.8h1v1h-1zM521.2 348.8h1v1h-1zM519.9 363.0h1v1h-1zM524.8 363.1h1v1h-1zM538.7 366.3h1v1h-1zM532.2 368.3h1v1h-1zM530.9 362.1h1v1h-1zM534.9 346.9h1v1h-1zM545.9 350.8h1v1h-1zM540.1 362.5h1v1h-1zM543.9 362.7h1v1h-1zM515.2 372.1h1v1h-1zM531.0 363.5h1v1h-1zM529.5 371.5h1v1h-1zM539.8 364.5h1v1h-1zM506.7 358.8h1v1h-1zM529.9 378.6h1v1h-1zM533.8 361.6h1v1h-1zM545.2 361.5h1v1h-1zM528.1 363.9h1v1h-1zM507.5 371.1h1v1h-1zM534.4 359.9h1v1h-1zM512.5 364.4h1v1h-1zM548.1 356.7h1v1h-1zM513.6 366.3h1v1h-1zM506.1 342.5h1v1h-1zM522.3 356.3h1v1h-1zM524.6 357.5h1v1h-1zM533.1 360.5h1v1h-1zM520.1 358.4h1v1h-1zM537.3 371.1h1v1h-1zM541.2 368.8h1v1h-1zM482.3 353.5h1v1h-1zM524.1 364.4h1v1h-1zM505.9 375.3h1v1h-1zM532.8 356.9h1v1h-1zM530.8 359.4h1v1h-1zM517.9 367.1h1v1h-1zM522.2 349.8h1v1h-1zM519.7 361.5h1v1h-1zM513.4 373.9h1v1h-1zM513.3 378.4h1v1h-1zM541.1 354.1h1v1h-1zM530.4 373.2h1v1h-1zM525.9 351.8h1v1h-1zM530.2 380.5h1v1h-1zM507.7 367.6h1v1h-1zM528.7 361.5h1v1h-1zM523.2 359.7h1v1h-1zM543.2 368.0h1v1h-1zM514.7 376.6h1v1h-1zM510.5 368.6h1v1h-1zM531.2 373.4h1v1h-1zM533.7 372.1h1v1h-1zM528.3 371.4h1v1h-1zM533.5 382.0h1v1h-1zM519.0 373.4h1v1h-1zM535.2 364.2h1v1h-1zM520.8 366.7h1v1h-1zM508.1 350.3h1v1h-1zM538.7 348.7h1v1h-1zM548.8 360.2h1v1h-1zM532.2 363.3h1v1h-1zM534.6 360.2h1v1h-1zM523.6 361.5h1v1h-1zM543.4 372.9h1v1h-1zM546.6 366.0h1v1h-1zM525.9 347.6h1v1h-1zM537.8 370.2h1v1h-1zM523.1 369.9h1v1h-1zM546.8 363.5h1v1h-1zM543.6 365.5h1v1h-1zM504.5 358.4h1v1h-1zM523.0 367.5h1v1h-1zM516.7 358.7h1v1h-1zM515.3 362.3h1v1h-1zM529.8 371.5h1v1h-1zM539.9 364.2h1v1h-1zM532.2 363.7h1v1h-1zM530.4 376.6h1v1h-1zM494.0 361.1h1v1h-1zM533.2 372.9h1v1h-1zM513.5 365.8h1v1h-1zM540.8 358.7h1v1h-1zM502.1 359.5h1v1h-1zM512.0 368.6h1v1h-1zM516.9 378.7h1v1h-1zM530.8 355.4h1v1h-1zM521.7 352.9h1v1h-1zM534.2 376.1h1v1h-1zM525.8 371.0h1v1h-1zM515.6 365.5h1v1h-1zM561.0 350.0h1v1h-1zM546.0 373.3h1v1h-1zM502.5 349.8h1v1h-1zM515.1 371.4h1v1h-1zM522.8 361.2h1v1h-1zM538.7 363.8h1v1h-1zM531.9 359.8h1v1h-1zM544.5 355.7h1v1h-1zM552.2 359.6h1v1h-1zM517.6 368.5h1v1h-1zM535.1 344.9h1v1h-1zM531.9 350.5h1v1h-1zM517.1 369.8h1v1h-1zM516.7 365.9h1v1h-1zM523.4 380.1h1v1h-1zM527.4 352.1h1v1h-1zM513.2 354.5h1v1h-1zM530.5 362.6h1v1h-1zM542.3 364.1h1v1h-1zM530.5 365.5h1v1h-1zM526.8 365.2h1v1h-1zM539.6 369.7h1v1h-1zM521.0 346.7h1v1h-1zM517.3 365.1h1v1h-1zM493.8 358.3h1v1h-1zM534.9 357.5h1v1h-1zM512.9 378.3h1v1h-1zM548.0 360.2h1v1h-1zM547.1 374.2h1v1h-1zM512.7 386.7h1v1h-1zM515.4 360.2h1v1h-1zM513.2 363.2h1v1h-1zM510.1 362.5h1v1h-1zM543.6 364.4h1v1h-1zM524.8 376.4h1v1h-1zM515.9 371.2h1v1h-1zM524.2 364.4h1v1h-1zM528.9 363.6h1v1h-1zM527.7 355.4h1v1h-1zM520.5 366.4h1v1h-1zM526.9 352.0h1v1h-1zM518.5 356.2h1v1h-1zM527.6 364.0h1v1h-1zM529.6 356.5h1v1h-1zM528.6 350.1h1v1h-1zM487.9 361.9h1v1h-1zM505.1 353.8h1v1h-1zM511.4 368.0h1v1h-1zM511.3 364.8h1v1h-1zM521.3 351.2h1v1h-1zM506.1 366.4h1v1h-1zM533.5 369.2h1v1h-1zM553.7 364.7h1v1h-1zM532.0 361.1h1v1h-1zM529.5 359.0h1v1h-1zM515.5 380.1h1v1h-1zM501.9 364.4h1v1h-1zM534.1 363.5h1v1h-1zM514.5 360.4h1v1h-1zM521.4 352.4h1v1h-1zM527.2 358.4h1v1h-1zM520.1 368.2h1v1h-1zM513.0 366.0h1v1h-1zM519.2 365.9h1v1h-1zM528.7 364.2h1v1h-1zM514.0 355.0h1v1h-1zM515.7 363.5h1v1h-1zM538.1 371.7h1v1h-1zM520.6 362.7h1v1h-1zM505.0 342.0h1v1h-1zM515.5 356.0h1v1h-1zM505.9 345.9h1v1h-1zM535.0 354.7h1v1h-1zM504.1 382.7h1v1h-1zM529.9 359.0h1v1h-1zM537.0 355.0h1v1h-1zM549.6 348.0h1v1h-1zM509.2 360.6h1v1h-1zM516.7 374.5h1v1h-1zM505.0 355.2h1v1h-1zM530.7 366.8h1v1h-1zM541.3 364.8h1v1h-1zM558.1 357.5h1v1h-1zM529.7 369.4h1v1h-1zM522.9 359.1h1v1h-1zM520.8 355.9h1v1h-1zM511.5 356.7h1v1h-1zM505.6 365.1h1v1h-1zM505.0 380.2h1v1h-1zM550.9 371.6h1v1h-1zM524.2 356.4h1v1h-1zM544.2 363.2h1v1h-1zM534.9 355.2h1v1h-1zM542.0 354.4h1v1h-1zM528.6 346.1h1v1h-1zM517.9 366.1h1v1h-1zM520.8 357.6h1v1h-1zM538.0 360.9h1v1h-1zM544.3 339.9h1v1h-1zM534.9 366.1h1v1h-1zM505.5 349.9h1v1h-1zM539.2 352.0h1v1h-1zM518.1 366.9h1v1h-1zM522.3 365.8h1v1h-1zM514.9 364.2h1v1h-1zM542.1 364.4h1v1h-1zM496.4 367.4h1v1h-1zM527.8 353.4h1v1h-1zM546.4 345.9h1v1h-1zM553.1 355.8h1v1h-1zM548.9 361.1h1v1h-1zM508.4 362.4h1v1h-1zM531.6 366.4h1v1h-1zM541.7 353.5h1v1h-1zM533.8 368.1h1v1h-1zM523.2 353.1h1v1h-1zM513.6 368.2h1v1h-1zM538.1 354.1h1v1h-1zM508.3 372.6h1v1h-1zM505.3 362.9h1v1h-1zM515.7 345.8h1v1h-1zM528.7 359.8h1v1h-1zM547.0 381.9h1v1h-1zM524.3 370.7h1v1h-1zM541.5 356.8h1v1h-1zM514.8 375.9h1v1h-1zM521.8 361.3h1v1h-1zM522.9 360.3h1v1h-1zM518.5 368.2h1v1h-1zM544.4 358.2h1v1h-1zM507.7 361.9h1v1h-1zM506.2 355.8h1v1h-1zM544.1 382.3h1v1h-1zM532.2 352.0h1v1h-1zM537.8 341.4h1v1h-1zM517.2 375.1h1v1h-1zM537.3 349.1h1v1h-1zM503.7 369.2h1v1h-1zM526.3 356.2h1v1h-1zM532.7 356.4h1v1h-1zM500.1 368.7h1v1h-1zM517.9 352.5h1v1h-1zM508.3 363.7h1v1h-1zM515.7 367.1h1v1h-1zM523.2 371.2h1v1h-1zM521.5 355.6h1v1h-1zM499.5 351.7h1v1h-1zM537.0 388.9h1v1h-1zM509.5 352.2h1v1h-1zM531.6 365.8h1v1h-1zM517.5 362.2h1v1h-1zM504.5 358.8h1v1h-1zM539.5 376.1h1v1h-1zM524.6 359.2h1v1h-1zM533.2 371.4h1v1h-1zM533.7 354.8h1v1h-1zM531.9 370.2h1v1h-1zM517.0 349.5h1v1h-1zM534.0 364.8h1v1h-1zM540.4 362.3h1v1h-1zM518.0 357.6h1v1h-1zM512.6 353.0h1v1h-1zM519.1 357.2h1v1h-1zM542.5 350.5h1v1h-1zM526.3 356.3h1v1h-1zM547.7 363.9h1v1h-1zM521.8 368.8h1v1h-1zM527.9 357.3h1v1h-1zM548.4 367.9h1v1h-1zM551.1 371.9h1v1h-1zM537.8 362.8h1v1h-1zM503.6 433.6h1v1h-1zM513.9 427.4h1v1h-1zM509.5 421.4h1v1h-1zM504.3 433.2h1v1h-1zM522.4 416.5h1v1h-1zM519.4 428.8h1v1h-1zM503.0 427.4h1v1h-1zM504.6 436.0h1v1h-1zM512.6 421.1h1v1h-1zM496.0 432.4h1v1h-1zM519.7 418.0h1v1h-1zM509.4 429.9h1v1h-1zM500.5 431.3h1v1h-1zM514.8 417.8h1v1h-1zM504.7 430.1h1v1h-1zM510.0 424.0h1v1h-1zM514.0 424.6h1v1h-1zM501.4 426.3h1v1h-1zM518.7 427.6h1v1h-1zM521.5 413.6h1v1h-1zM523.5 422.5h1v1h-1zM512.6 427.1h1v1h-1zM523.9 428.7h1v1h-1zM503.7 433.0h1v1h-1zM509.8 424.4h1v1h-1zM524.2 422.5h1v1h-1zM501.7 428.6h1v1h-1zM509.8 416.8h1v1h-1zM519.2 419.8h1v1h-1zM514.0 425.4h1v1h-1zM528.0 415.4h1v1h-1zM513.1 434.7h1v1h-1zM505.7 424.7h1v1h-1zM502.1 436.9h1v1h-1zM515.4 425.4h1v1h-1zM512.8 423.1h1v1h-1zM502.5 425.0h1v1h-1zM515.9 423.0h1v1h-1zM524.3 412.6h1v1h-1zM504.5 422.3h1v1h-1zM520.7 411.6h1v1h-1zM522.5 427.4h1v1h-1zM512.4 428.8h1v1h-1zM491.5 433.8h1v1h-1zM497.2 434.0h1v1h-1zM509.7 420.9h1v1h-1zM521.1 421.4h1v1h-1zM505.6 424.9h1v1h-1zM498.0 431.4h1v1h-1zM528.8 410.3h1v1h-1zM514.0 419.8h1v1h-1zM520.1 422.5h1v1h-1zM504.8 417.4h1v1h-1zM510.3 432.9h1v1h-1zM511.2 428.8h1v1h-1zM502.3 418.3h1v1h-1zM516.4 423.9h1v1h-1zM505.5 425.9h1v1h-1zM512.7 420.3h1v1h-1zM514.3 421.9h1v1h-1zM490.1 436.2h1v1h-1zM504.1 423.8h1v1h-1zM514.0 420.2h1v1h-1zM519.5 427.0h1v1h-1zM508.8 416.6h1v1h-1zM507.6 432.7h1v1h-1zM507.2 422.2h1v1h-1zM512.3 427.4h1v1h-1zM515.8 426.3h1v1h-1zM503.6 427.6h1v1h-1zM509.4 425.8h1v1h-1zM492.3 434.4h1v1h-1zM503.5 438.1h1v1h-1zM530.3 424.4h1v1h-1zM517.7 418.1h1v1h-1zM519.8 418.7h1v1h-1zM514.8 417.2h1v1h-1zM507.8 429.8h1v1h-1zM527.6 415.3h1v1h-1zM539.5 425.9h1v1h-1zM500.2 431.1h1v1h-1zM502.9 428.9h1v1h-1zM506.8 427.1h1v1h-1zM523.0 424.0h1v1h-1zM514.1 423.3h1v1h-1zM513.2 424.6h1v1h-1zM517.0 421.7h1v1h-1zM512.8 415.8h1v1h-1zM523.7 428.7h1v1h-1zM509.6 417.0h1v1h-1zM523.1 416.0h1v1h-1zM484.4 439.1h1v1h-1zM518.3 423.3h1v1h-1zM524.7 421.1h1v1h-1zM507.6 414.7h1v1h-1zM502.3 431.2h1v1h-1zM515.1 416.3h1v1h-1zM507.6 430.0h1v1h-1zM489.4 425.4h1v1h-1zM510.5 427.0h1v1h-1zM501.3 416.3h1v1h-1zM508.4 418.2h1v1h-1zM517.5 420.7h1v1h-1zM516.0 426.3h1v1h-1zM509.4 431.2h1v1h-1zM524.1 420.0h1v1h-1zM522.1 414.7h1v1h-1zM520.8 421.1h1v1h-1zM502.8 429.4h1v1h-1zM505.6 424.8h1v1h-1zM515.5 429.2h1v1h-1zM509.3 426.8h1v1h-1zM498.9 432.7h1v1h-1zM524.5 422.4h1v1h-1zM514.7 419.7h1v1h-1zM502.8 429.2h1v1h-1zM496.5 425.7h1v1h-1zM517.9 415.4h1v1h-1zM524.1 408.5h1v1h-1zM512.5 416.8h1v1h-1zM510.6 418.8h1v1h-1zM511.8 423.7h1v1h-1zM509.2 429.4h1v1h-1zM523.8 414.0h1v1h-1zM520.1 420.4h1v1h-1zM517.6 435.1h1v1h-1zM490.5 432.7h1v1h-1zM494.7 432.5h1v1h-1zM520.2 443.8h1v1h-1zM519.9 431.3h1v1h-1zM522.4 415.8h1v1h-1zM520.7 430.0h1v1h-1zM514.0 424.7h1v1h-1zM512.3 414.9h1v1h-1zM505.5 430.4h1v1h-1zM514.3 417.4h1v1h-1zM508.6 425.7h1v1h-1zM512.4 428.7h1v1h-1zM513.3 424.8h1v1h-1zM496.2 427.0h1v1h-1zM510.4 415.4h1v1h-1zM512.5 420.1h1v1h-1zM506.3 431.9h1v1h-1zM503.4 424.1h1v1h-1zM505.9 428.4h1v1h-1zM530.8 400.3h1v1h-1zM511.0 423.6h1v1h-1zM519.4 417.9h1v1h-1zM493.1 443.7h1v1h-1zM501.8 430.0h1v1h-1zM496.4 426.6h1v1h-1zM509.6 431.3h1v1h-1zM517.7 417.4h1v1h-1zM515.2 420.2h1v1h-1zM513.2 424.8h1v1h-1zM515.6 418.5h1v1h-1zM511.1 426.3h1v1h-1zM510.3 420.4h1v1h-1zM526.0 413.4h1v1h-1zM519.1 421.6h1v1h-1zM516.7 407.9h1v1h-1zM529.6 412.9h1v1h-1zM500.9 431.6h1v1h-1zM533.4 415.2h1v1h-1zM499.3 428.8h1v1h-1zM519.9 411.0h1v1h-1zM509.2 424.2h1v1h-1zM530.4 411.9h1v1h-1zM521.7 414.6h1v1h-1zM507.1 433.6h1v1h-1zM512.5 413.2h1v1h-1zM519.2 424.3h1v1h-1zM506.7 428.9h1v1h-1zM512.7 420.9h1v1h-1zM504.5 424.5h1v1h-1zM505.5 419.7h1v1h-1zM507.2 417.8h1v1h-1zM512.1 423.8h1v1h-1zM504.6 434.0h1v1h-1zM532.7 420.8h1v1h-1zM502.8 437.8h1v1h-1zM513.4 423.2h1v1h-1zM506.2 427.7h1v1h-1zM525.6 420.0h1v1h-1zM506.0 423.6h1v1h-1zM509.4 429.6h1v1h-1zM525.6 409.9h1v1h-1zM510.5 422.8h1v1h-1zM505.9 430.4h1v1h-1zM512.7 415.0h1v1h-1zM505.5 435.7h1v1h-1zM515.9 425.4h1v1h-1zM506.0 425.4h1v1h-1zM514.4 419.9h1v1h-1zM501.6 430.4h1v1h-1zM516.9 415.0h1v1h-1zM523.0 422.4h1v1h-1zM503.8 429.1h1v1h-1zM512.9 427.8h1v1h-1zM514.0 415.0h1v1h-1zM502.3 436.5h1v1h-1zM513.8 426.0h1v1h-1zM518.8 430.1h1v1h-1zM503.7 436.0h1v1h-1zM506.2 432.3h1v1h-1zM519.9 411.1h1v1h-1zM514.5 421.2h1v1h-1zM509.1 426.3h1v1h-1zM499.5 425.5h1v1h-1zM519.8 425.2h1v1h-1zM502.5 420.7h1v1h-1zM535.4 417.8h1v1h-1zM512.0 417.9h1v1h-1zM507.0 428.8h1v1h-1zM507.3 437.1h1v1h-1zM513.9 425.8h1v1h-1zM499.9 425.7h1v1h-1zM505.3 430.0h1v1h-1zM508.4 424.6h1v1h-1zM515.0 424.0h1v1h-1zM524.4 416.0h1v1h-1zM502.5 429.8h1v1h-1zM523.2 414.4h1v1h-1zM511.1 422.7h1v1h-1zM515.9 423.7h1v1h-1zM503.7 427.7h1v1h-1zM523.0 424.9h1v1h-1zM522.2 423.9h1v1h-1zM507.6 424.6h1v1h-1zM516.7 414.3h1v1h-1zM506.1 416.2h1v1h-1zM506.3 423.3h1v1h-1zM502.4 433.6h1v1h-1zM504.0 426.7h1v1h-1zM507.3 422.5h1v1h-1zM523.0 415.0h1v1h-1zM509.8 417.5h1v1h-1zM506.5 425.5h1v1h-1zM507.3 423.5h1v1h-1zM517.1 431.2h1v1h-1zM510.1 424.6h1v1h-1zM515.0 438.5h1v1h-1zM527.5 418.9h1v1h-1zM516.0 417.7h1v1h-1zM510.8 426.4h1v1h-1zM510.4 420.0h1v1h-1zM506.1 431.0h1v1h-1zM508.7 413.2h1v1h-1zM515.9 430.1h1v1h-1zM506.5 429.1h1v1h-1zM500.9 436.0h1v1h-1zM498.3 424.5h1v1h-1zM515.2 437.3h1v1h-1zM502.8 421.9h1v1h-1zM516.4 423.3h1v1h-1zM523.0 410.2h1v1h-1zM496.6 431.3h1v1h-1zM516.0 424.3h1v1h-1zM517.3 412.1h1v1h-1zM503.9 428.2h1v1h-1zM520.4 422.5h1v1h-1zM505.1 422.0h1v1h-1zM522.1 424.5h1v1h-1zM535.4 409.8h1v1h-1zM522.9 410.6h1v1h-1zM505.0 424.3h1v1h-1zM505.2 422.9h1v1h-1zM506.7 427.2h1v1h-1zM509.4 430.0h1v1h-1zM510.9 425.0h1v1h-1zM525.6 418.5h1v1h-1zM513.0 423.7h1v1h-1zM513.8 427.0h1v1h-1zM507.6 434.1h1v1h-1zM528.8 421.9h1v1h-1zM503.0 419.7h1v1h-1zM508.2 427.6h1v1h-1zM518.5 419.5h1v1h-1zM513.0 433.3h1v1h-1zM508.6 433.0h1v1h-1zM516.1 413.8h1v1h-1zM512.6 420.6h1v1h-1zM498.2 420.9h1v1h-1zM498.8 434.6h1v1h-1zM508.9 427.9h1v1h-1zM501.3 428.6h1v1h-1zM505.1 418.8h1v1h-1zM498.0 435.2h1v1h-1zM510.5 419.5h1v1h-1zM512.5 428.2h1v1h-1zM525.6 411.1h1v1h-1zM522.9 431.3h1v1h-1zM516.2 431.1h1v1h-1zM492.5 444.7h1v1h-1zM506.5 415.9h1v1h-1zM521.4 425.5h1v1h-1zM525.7 424.0h1v1h-1zM509.4 421.3h1v1h-1zM507.5 426.8h1v1h-1zM514.0 420.3h1v1h-1zM514.5 428.5h1v1h-1zM520.7 433.7h1v1h-1zM527.8 408.1h1v1h-1zM503.1 421.4h1v1h-1zM502.7 433.2h1v1h-1zM500.0 424.8h1v1h-1zM511.4 429.7h1v1h-1zM507.5 424.8h1v1h-1zM521.1 422.1h1v1h-1zM518.3 426.7h1v1h-1zM503.2 430.8h1v1h-1zM508.8 432.7h1v1h-1zM516.1 415.5h1v1h-1zM520.4 412.2h1v1h-1zM522.7 419.5h1v1h-1zM500.8 423.9h1v1h-1zM508.9 426.1h1v1h-1zM506.8 430.9h1v1h-1zM499.1 431.8h1v1h-1zM506.6 415.8h1v1h-1zM511.0 417.1h1v1h-1zM487.6 434.6h1v1h-1zM512.0 430.0h1v1h-1zM511.3 434.0h1v1h-1zM527.5 422.3h1v1h-1zM524.4 419.4h1v1h-1zM508.4 430.5h1v1h-1zM521.0 420.7h1v1h-1zM505.2 418.5h1v1h-1zM518.7 422.8h1v1h-1zM500.2 431.8h1v1h-1zM517.8 420.4h1v1h-1zM520.7 424.1h1v1h-1zM497.6 430.8h1v1h-1zM518.5 426.4h1v1h-1zM519.1 408.3h1v1h-1zM513.0 428.3h1v1h-1zM527.2 426.2h1v1h-1zM502.2 427.7h1v1h-1zM504.4 433.9h1v1h-1zM503.0 437.0h1v1h-1zM521.4 422.1h1v1h-1zM490.3 432.7h1v1h-1zM514.5 414.1h1v1h-1zM509.2 425.4h1v1h-1zM520.4 421.3h1v1h-1zM512.9 421.1h1v1h-1zM511.3 424.0h1v1h-1zM517.7 420.0h1v1h-1zM516.3 411.3h1v1h-1zM522.0 417.6h1v1h-1zM522.0 419.2h1v1h-1zM523.4 427.2h1v1h-1zM506.9 427.9h1v1h-1zM510.7 426.5h1v1h-1zM496.6 432.2h1v1h-1zM507.2 422.2h1v1h-1zM505.7 418.4h1v1h-1zM525.4 419.5h1v1h-1zM526.2 410.7h1v1h-1zM501.9 432.0h1v1h-1zM497.2 434.3h1v1h-1zM504.4 426.7h1v1h-1zM514.0 423.5h1v1h-1zM530.0 417.9h1v1h-1zM502.7 435.9h1v1h-1zM499.8 432.0h1v1h-1zM498.1 427.2h1v1h-1zM521.9 415.2h1v1h-1zM504.3 425.3h1v1h-1zM512.7 433.0h1v1h-1zM497.6 424.9h1v1h-1zM512.4 414.1h1v1h-1zM511.3 431.8h1v1h-1zM510.3 422.4h1v1h-1zM502.7 424.0h1v1h-1zM506.6 428.3h1v1h-1zM525.3 422.7h1v1h-1zM504.4 424.1h1v1h-1zM512.8 412.5h1v1h-1zM506.6 425.4h1v1h-1zM498.8 425.7h1v1h-1zM510.1 415.0h1v1h-1zM501.4 426.3h1v1h-1zM508.4 417.7h1v1h-1zM520.3 417.5h1v1h-1zM508.0 424.3h1v1h-1zM502.6 423.5h1v1h-1zM522.2 419.6h1v1h-1zM513.0 429.9h1v1h-1zM506.6 431.3h1v1h-1zM509.0 420.3h1v1h-1zM514.0 413.7h1v1h-1zM514.7 417.1h1v1h-1zM518.6 429.0h1v1h-1zM514.6 418.9h1v1h-1zM509.9 423.1h1v1h-1zM497.6 425.5h1v1h-1zM513.0 426.9h1v1h-1zM495.1 433.4h1v1h-1zM515.9 422.5h1v1h-1zM504.9 434.7h1v1h-1zM501.9 434.0h1v1h-1zM519.8 406.8h1v1h-1zM514.2 424.8h1v1h-1zM510.9 419.9h1v1h-1zM504.4 419.7h1v1h-1zM513.6 426.5h1v1h-1zM502.5 423.7h1v1h-1zM506.7 427.0h1v1h-1zM511.2 423.8h1v1h-1zM508.0 418.2h1v1h-1zM488.2 441.6h1v1h-1zM519.8 410.7h1v1h-1zM505.8 429.5h1v1h-1zM521.1 422.8h1v1h-1zM522.1 417.8h1v1h-1zM515.7 424.4h1v1h-1zM510.3 432.5h1v1h-1zM519.1 426.0h1v1h-1zM510.2 431.5h1v1h-1zM502.5 431.9h1v1h-1zM484.8 433.4h1v1h-1zM516.2 418.8h1v1h-1zM508.0 416.2h1v1h-1zM526.2 419.5h1v1h-1zM511.7 426.7h1v1h-1zM517.6 429.6h1v1h-1zM508.8 416.7h1v1h-1zM512.0 431.9h1v1h-1zM514.8 419.8h1v1h-1zM516.6 422.1h1v1h-1zM512.0 414.1h1v1h-1zM504.6 432.4h1v1h-1zM509.8 427.4h1v1h-1zM527.4 413.1h1v1h-1zM511.5 420.8h1v1h-1zM505.1 427.5h1v1h-1zM492.2 422.3h1v1h-1zM522.7 417.2h1v1h-1zM521.1 419.5h1v1h-1zM513.9 427.0h1v1h-1zM514.0 415.4h1v1h-1zM518.9 413.9h1v1h-1zM519.5 435.5h1v1h-1zM516.0 432.0h1v1h-1zM509.4 429.3h1v1h-1zM512.4 426.3h1v1h-1zM500.8 424.8h1v1h-1zM509.6 415.7h1v1h-1zM505.1 432.0h1v1h-1zM503.0 423.7h1v1h-1zM501.4 431.0h1v1h-1zM508.0 427.2h1v1h-1zM514.1 434.2h1v1h-1zM501.7 417.8h1v1h-1zM511.9 424.1h1v1h-1zM507.9 416.4h1v1h-1zM520.8 418.7h1v1h-1zM506.2 417.5h1v1h-1zM514.9 421.9h1v1h-1zM521.7 415.8h1v1h-1zM500.2 431.6h1v1h-1zM503.9 431.2h1v1h-1zM500.9 429.6h1v1h-1zM508.7 425.6h1v1h-1zM504.1 423.5h1v1h-1zM508.8 422.3h1v1h-1zM511.5 422.6h1v1h-1zM490.8 435.8h1v1h-1zM523.9 419.0h1v1h-1zM517.3 423.7h1v1h-1zM503.1 420.9h1v1h-1zM520.8 425.4h1v1h-1zM517.0 423.7h1v1h-1zM514.2 422.5h1v1h-1zM513.3 423.3h1v1h-1zM511.2 418.6h1v1h-1zM506.8 430.5h1v1h-1zM501.4 415.2h1v1h-1zM505.9 413.5h1v1h-1zM529.5 418.3h1v1h-1zM515.0 418.2h1v1h-1zM500.4 429.4h1v1h-1zM509.0 421.0h1v1h-1zM514.1 427.0h1v1h-1zM513.4 416.9h1v1h-1zM492.0 435.6h1v1h-1zM506.3 430.0h1v1h-1zM529.6 423.9h1v1h-1zM516.3 428.3h1v1h-1zM525.4 416.6h1v1h-1zM515.6 427.2h1v1h-1zM509.3 422.5h1v1h-1zM504.4 428.4h1v1h-1zM507.7 431.4h1v1h-1zM511.9 433.0h1v1h-1zM518.3 412.9h1v1h-1zM519.4 417.4h1v1h-1zM524.3 420.1h1v1h-1zM512.4 427.9h1v1h-1zM507.1 428.9h1v1h-1zM514.0 422.0h1v1h-1zM511.8 418.2h1v1h-1zM512.8 416.3h1v1h-1zM517.8 423.7h1v1h-1zM515.8 418.6h1v1h-1zM536.9 408.4h1v1h-1zM510.5 420.5h1v1h-1zM522.4 415.4h1v1h-1zM517.4 415.4h1v1h-1zM513.0 421.4h1v1h-1zM518.6 418.7h1v1h-1zM505.0 431.0h1v1h-1zM498.5 426.3h1v1h-1zM513.1 412.3h1v1h-1zM516.9 419.0h1v1h-1zM504.1 430.3h1v1h-1zM515.3 418.8h1v1h-1zM512.0 429.1h1v1h-1zM517.8 420.6h1v1h-1zM502.4 424.2h1v1h-1zM508.1 430.7h1v1h-1zM517.2 423.1h1v1h-1zM522.7 416.4h1v1h-1zM507.3 424.8h1v1h-1zM522.6 405.9h1v1h-1zM515.2 425.2h1v1h-1zM518.2 434.8h1v1h-1zM523.7 422.3h1v1h-1zM505.2 431.3h1v1h-1zM508.6 426.7h1v1h-1zM512.1 421.5h1v1h-1zM521.3 428.8h1v1h-1zM521.1 420.5h1v1h-1zM498.0 439.1h1v1h-1zM520.5 418.4h1v1h-1zM509.4 429.9h1v1h-1zM506.9 432.2h1v1h-1zM500.2 425.8h1v1h-1zM508.2 418.0h1v1h-1zM513.2 427.0h1v1h-1zM503.0 435.3h1v1h-1zM508.5 429.8h1v1h-1zM512.5 421.5h1v1h-1zM503.0 419.6h1v1h-1zM503.9 424.6h1v1h-1zM528.5 421.1h1v1h-1zM502.3 434.9h1v1h-1zM512.8 421.8h1v1h-1zM517.9 425.9h1v1h-1zM506.3 426.2h1v1h-1zM510.8 419.4h1v1h-1zM513.3 423.3h1v1h-1zM504.0 424.2h1v1h-1zM516.8 427.0h1v1h-1zM512.6 419.2h1v1h-1zM518.8 421.7h1v1h-1zM520.0 426.9h1v1h-1zM503.9 428.4h1v1h-1zM504.6 423.6h1v1h-1zM531.4 418.9h1v1h-1zM498.0 435.2h1v1h-1zM510.2 432.4h1v1h-1zM512.2 423.4h1v1h-1zM514.2 425.6h1v1h-1zM511.7 423.5h1v1h-1zM512.1 427.6h1v1h-1zM502.4 430.1h1v1h-1zM509.7 423.0h1v1h-1zM514.9 415.2h1v1h-1zM506.7 422.6h1v1h-1zM515.4 419.8h1v1h-1zM513.4 426.1h1v1h-1zM499.6 434.4h1v1h-1zM505.0 427.1h1v1h-1zM513.1 428.8h1v1h-1zM522.8 428.8h1v1h-1zM512.3 421.6h1v1h-1zM509.4 430.0h1v1h-1zM526.5 418.3h1v1h-1zM507.8 428.6h1v1h-1zM514.3 423.5h1v1h-1zM499.2 417.0h1v1h-1zM510.1 431.9h1v1h-1zM508.1 413.7h1v1h-1zM507.3 416.4h1v1h-1zM529.4 415.7h1v1h-1zM503.8 434.0h1v1h-1zM506.8 430.9h1v1h-1zM509.2 419.2h1v1h-1zM514.2 415.4h1v1h-1zM523.5 418.3h1v1h-1zM498.6 421.6h1v1h-1zM529.5 423.1h1v1h-1zM505.6 438.1h1v1h-1zM512.9 422.8h1v1h-1zM510.6 423.8h1v1h-1zM524.5 418.3h1v1h-1zM501.7 442.9h1v1h-1zM516.7 415.4h1v1h-1zM506.7 422.3h1v1h-1zM513.4 426.1h1v1h-1zM512.5 420.8h1v1h-1zM507.4 432.3h1v1h-1zM516.9 435.1h1v1h-1zM507.2 432.1h1v1h-1zM510.5 421.0h1v1h-1zM523.9 418.5h1v1h-1zM503.6 427.6h1v1h-1zM517.5 414.2h1v1h-1zM525.5 420.9h1v1h-1zM513.1 432.0h1v1h-1zM528.4 418.7h1v1h-1zM518.2 432.0h1v1h-1zM522.3 413.1h1v1h-1zM509.7 424.7h1v1h-1zM504.7 419.9h1v1h-1zM519.9 420.5h1v1h-1zM516.5 430.4h1v1h-1zM507.0 427.1h1v1h-1zM513.2 421.3h1v1h-1zM513.0 428.6h1v1h-1zM515.4 430.6h1v1h-1zM506.1 429.2h1v1h-1zM499.5 431.1h1v1h-1zM509.5 434.2h1v1h-1zM519.7 423.2h1v1h-1zM531.5 422.0h1v1h-1zM516.4 418.0h1v1h-1zM499.6 431.6h1v1h-1zM507.3 423.5h1v1h-1zM505.2 418.6h1v1h-1zM521.8 412.1h1v1h-1zM507.7 430.5h1v1h-1zM500.4 436.8h1v1h-1zM519.2 418.6h1v1h-1zM501.5 427.8h1v1h-1zM499.7 440.0h1v1h-1zM510.6 421.0h1v1h-1zM505.7 431.7h1v1h-1zM521.6 411.4h1v1h-1zM502.5 419.5h1v1h-1zM518.2 422.0h1v1h-1zM531.1 412.8h1v1h-1zM506.4 423.6h1v1h-1zM515.1 413.0h1v1h-1zM519.1 422.0h1v1h-1zM505.3 423.0h1v1h-1zM525.9 427.8h1v1h-1zM509.5 429.2h1v1h-1zM525.4 413.1h1v1h-1zM506.6 420.3h1v1h-1zM510.5 425.0h1v1h-1zM506.5 423.3h1v1h-1zM494.8 426.4h1v1h-1zM505.2 432.4h1v1h-1zM505.4 423.3h1v1h-1zM519.1 423.9h1v1h-1zM503.8 425.5h1v1h-1zM518.7 423.0h1v1h-1zM505.4 429.9h1v1h-1zM514.7 429.8h1v1h-1zM506.8 432.9h1v1h-1zM513.1 417.9h1v1h-1zM523.5 423.5h1v1h-1zM505.8 440.2h1v1h-1zM499.7 426.2h1v1h-1zM511.2 429.7h1v1h-1zM516.8 421.3h1v1h-1zM524.9 419.6h1v1h-1zM531.5 430.4h1v1h-1zM506.9 411.9h1v1h-1zM505.2 422.0h1v1h-1zM513.1 424.6h1v1h-1zM498.3 425.5h1v1h-1zM509.2 425.0h1v1h-1zM491.8 442.2h1v1h-1zM512.2 424.4h1v1h-1zM511.9 418.4h1v1h-1zM514.3 429.6h1v1h-1zM522.7 421.3h1v1h-1zM507.4 422.2h1v1h-1zM525.0 420.3h1v1h-1zM502.5 416.7h1v1h-1zM499.2 420.1h1v1h-1zM523.5 419.1h1v1h-1zM504.7 427.1h1v1h-1zM538.2 417.0h1v1h-1zM499.7 430.9h1v1h-1zM496.5 422.9h1v1h-1zM520.0 434.9h1v1h-1zM526.0 416.8h1v1h-1zM509.2 427.5h1v1h-1zM517.3 412.5h1v1h-1zM500.4 443.0h1v1h-1zM518.8 430.7h1v1h-1zM518.1 430.3h1v1h-1zM507.9 430.1h1v1h-1zM528.6 421.4h1v1h-1zM510.3 431.2h1v1h-1zM502.2 421.3h1v1h-1zM520.5 428.5h1v1h-1zM516.2 414.3h1v1h-1zM521.7 423.3h1v1h-1zM501.1 415.3h1v1h-1zM523.5 423.5h1v1h-1zM511.8 413.9h1v1h-1zM501.3 437.1h1v1h-1zM520.6 422.8h1v1h-1zM510.8 427.7h1v1h-1zM506.3 425.9h1v1h-1zM504.9 430.3h1v1h-1zM510.8 431.3h1v1h-1zM516.3 417.0h1v1h-1zM525.5 409.7h1v1h-1zM519.0 427.4h1v1h-1zM517.6 407.4h1v1h-1zM524.4 425.2h1v1h-1zM518.9 406.5h1v1h-1zM505.6 427.7h1v1h-1zM511.6 433.3h1v1h-1zM509.2 434.0h1v1h-1zM513.1 414.7h1v1h-1zM501.7 427.6h1v1h-1zM515.6 428.8h1v1h-1zM512.8 429.9h1v1h-1zM489.3 418.3h1v1h-1zM510.2 428.6h1v1h-1zM505.9 421.7h1v1h-1zM521.2 431.6h1v1h-1zM509.1 421.7h1v1h-1zM509.7 438.4h1v1h-1zM513.3 427.7h1v1h-1zM526.1 423.3h1v1h-1zM506.2 434.0h1v1h-1zM521.0 422.5h1v1h-1zM519.6 416.6h1v1h-1zM509.9 422.5h1v1h-1zM517.1 417.5h1v1h-1zM512.6 417.3h1v1h-1zM509.9 423.5h1v1h-1zM511.3 425.8h1v1h-1zM509.7 424.5h1v1h-1zM496.2 440.7h1v1h-1zM505.7 426.7h1v1h-1zM507.2 433.7h1v1h-1zM505.2 431.7h1v1h-1zM527.2 426.3h1v1h-1zM524.5 421.3h1v1h-1zM504.7 437.0h1v1h-1zM525.1 422.4h1v1h-1zM519.5 420.8h1v1h-1zM510.3 432.4h1v1h-1zM520.8 413.0h1v1h-1zM521.0 421.0h1v1h-1zM520.9 421.3h1v1h-1zM525.0 423.6h1v1h-1zM516.4 413.4h1v1h-1zM519.7 420.5h1v1h-1zM503.9 433.8h1v1h-1zM502.2 436.0h1v1h-1zM526.1 413.4h1v1h-1zM521.7 421.9h1v1h-1zM514.4 414.8h1v1h-1zM518.1 422.0h1v1h-1zM518.9 420.8h1v1h-1zM522.9 420.2h1v1h-1zM522.1 427.5h1v1h-1zM516.6 428.3h1v1h-1zM515.8 425.9h1v1h-1zM509.7 431.0h1v1h-1zM523.1 417.8h1v1h-1zM520.6 422.5h1v1h-1zM503.4 432.0h1v1h-1zM522.9 415.5h1v1h-1zM496.9 434.8h1v1h-1zM511.8 436.8h1v1h-1zM512.0 424.8h1v1h-1zM507.4 429.0h1v1h-1zM504.9 423.3h1v1h-1zM509.6 421.1h1v1h-1zM521.0 412.3h1v1h-1zM509.9 421.7h1v1h-1zM504.6 439.5h1v1h-1zM497.6 442.2h1v1h-1zM500.0 432.3h1v1h-1zM526.9 403.0h1v1h-1zM503.7 437.8h1v1h-1zM512.5 421.1h1v1h-1zM509.5 420.2h1v1h-1zM517.5 430.9h1v1h-1zM509.4 427.2h1v1h-1zM528.5 427.7h1v1h-1zM508.0 429.0h1v1h-1zM505.7 424.5h1v1h-1zM507.1 423.7h1v1h-1zM491.6 424.2h1v1h-1zM506.3 429.0h1v1h-1zM521.8 415.9h1v1h-1zM512.7 428.5h1v1h-1zM518.7 420.2h1v1h-1zM517.0 433.6h1v1h-1zM508.1 424.0h1v1h-1zM499.1 435.0h1v1h-1zM515.2 434.8h1v1h-1zM511.6 430.1h1v1h-1zM525.2 427.5h1v1h-1zM505.0 438.6h1v1h-1zM512.3 424.0h1v1h-1zM508.6 424.3h1v1h-1zM503.1 415.5h1v1h-1zM517.1 422.3h1v1h-1zM503.8 429.2h1v1h-1zM533.9 414.6h1v1h-1zM513.6 434.5h1v1h-1zM504.9 428.0h1v1h-1zM506.9 426.3h1v1h-1zM520.5 423.5h1v1h-1zM505.6 427.7h1v1h-1zM512.1 422.2h1v1h-1zM510.1 421.4h1v1h-1zM506.0 428.6h1v1h-1zM504.4 431.8h1v1h-1zM508.2 421.3h1v1h-1zM505.7 425.5h1v1h-1zM511.3 425.9h1v1h-1zM508.2 421.6h1v1h-1zM527.5 421.5h1v1h-1zM515.9 428.4h1v1h-1zM514.6 421.7h1v1h-1zM520.2 436.5h1v1h-1zM523.9 424.3h1v1h-1zM510.5 429.4h1v1h-1zM533.4 415.0h1v1h-1zM525.2 424.9h1v1h-1zM522.2 428.6h1v1h-1zM515.7 425.7h1v1h-1zM513.9 440.0h1v1h-1zM515.3 423.5h1v1h-1zM523.3 415.3h1v1h-1zM510.2 421.0h1v1h-1zM511.5 422.7h1v1h-1zM516.8 421.2h1v1h-1zM506.3 426.3h1v1h-1zM509.9 422.8h1v1h-1zM522.4 422.9h1v1h-1zM510.4 418.4h1v1h-1zM513.5 416.1h1v1h-1zM514.1 423.9h1v1h-1zM504.9 423.8h1v1h-1zM511.7 437.6h1v1h-1zM509.4 425.0h1v1h-1zM521.9 421.6h1v1h-1zM518.4 413.6h1v1h-1zM511.6 445.4h1v1h-1zM511.2 423.5h1v1h-1zM516.4 428.3h1v1h-1zM502.6 431.9h1v1h-1zM513.9 427.8h1v1h-1zM512.4 421.3h1v1h-1zM498.3 417.8h1v1h-1zM517.0 412.9h1v1h-1zM513.2 434.3h1v1h-1zM510.3 429.5h1v1h-1zM512.3 428.9h1v1h-1zM511.2 422.1h1v1h-1zM523.4 416.5h1v1h-1zM499.7 429.8h1v1h-1zM514.1 416.8h1v1h-1zM521.2 424.1h1v1h-1zM529.2 410.9h1v1h-1zM513.7 413.6h1v1h-1zM508.9 427.2h1v1h-1zM515.7 422.3h1v1h-1zM509.9 422.2h1v1h-1zM509.2 428.2h1v1h-1zM518.9 424.7h1v1h-1zM524.1 425.0h1v1h-1zM495.2 431.3h1v1h-1zM509.2 422.5h1v1h-1zM523.4 422.7h1v1h-1zM511.7 425.7h1v1h-1zM522.4 416.6h1v1h-1zM512.0 430.3h1v1h-1zM520.1 428.7h1v1h-1zM517.5 426.1h1v1h-1zM505.1 423.0h1v1h-1zM505.2 412.5h1v1h-1zM518.4 427.0h1v1h-1zM512.4 423.2h1v1h-1zM521.7 418.9h1v1h-1zM526.6 429.7h1v1h-1zM521.1 425.2h1v1h-1zM517.3 423.3h1v1h-1zM514.9 423.5h1v1h-1zM517.5 411.8h1v1h-1zM511.7 428.9h1v1h-1zM504.7 428.3h1v1h-1zM507.4 430.1h1v1h-1zM523.7 426.9h1v1h-1zM514.8 418.8h1v1h-1zM516.0 425.9h1v1h-1zM518.9 407.7h1v1h-1zM510.7 414.4h1v1h-1zM519.7 423.0h1v1h-1zM519.0 426.1h1v1h-1zM514.0 419.7h1v1h-1zM518.5 428.3h1v1h-1zM511.4 425.3h1v1h-1zM504.8 435.9h1v1h-1zM506.0 423.7h1v1h-1zM506.2 422.9h1v1h-1zM513.5 431.7h1v1h-1zM522.9 427.1h1v1h-1zM522.9 413.1h1v1h-1zM520.4 429.0h1v1h-1zM528.5 406.6h1v1h-1zM501.2 433.9h1v1h-1zM506.8 421.7h1v1h-1zM513.5 419.1h1v1h-1zM492.5 435.9h1v1h-1zM515.1 426.9h1v1h-1zM520.9 420.7h1v1h-1zM508.5 422.7h1v1h-1zM496.8 430.9h1v1h-1zM522.6 422.6h1v1h-1zM529.7 413.6h1v1h-1zM498.9 437.3h1v1h-1zM518.2 414.1h1v1h-1zM498.7 433.4h1v1h-1zM515.5 415.9h1v1h-1zM507.3 422.8h1v1h-1zM498.5 424.5h1v1h-1zM512.5 422.2h1v1h-1zM499.6 416.1h1v1h-1zM524.9 411.5h1v1h-1zM508.0 420.1h1v1h-1zM511.5 415.8h1v1h-1zM512.5 423.3h1v1h-1zM517.3 415.0h1v1h-1zM505.9 426.8h1v1h-1zM526.5 407.4h1v1h-1zM513.0 420.2h1v1h-1zM516.6 426.0h1v1h-1zM514.1 425.1h1v1h-1zM513.0 420.5h1v1h-1zM505.9 418.1h1v1h-1zM507.0 422.9h1v1h-1zM511.8 429.2h1v1h-1zM516.0 430.0h1v1h-1zM516.0 400.6h1v1h-1zM514.9 425.4h1v1h-1zM502.8 417.0h1v1h-1zM520.7 435.0h1v1h-1zM523.1 421.4h1v1h-1zM521.2 432.5h1v1h-1zM539.0 428.4h1v1h-1zM511.2 428.0h1v1h-1zM512.0 429.1h1v1h-1zM504.5 437.7h1v1h-1zM496.1 424.9h1v1h-1zM511.8 420.9h1v1h-1zM497.9 411.0h1v1h-1zM520.0 423.4h1v1h-1zM508.6 432.8h1v1h-1zM509.2 420.6h1v1h-1zM535.5 412.6h1v1h-1zM529.1 438.6h1v1h-1zM500.3 432.4h1v1h-1zM500.9 442.0h1v1h-1zM500.1 420.2h1v1h-1zM530.7 428.6h1v1h-1zM500.4 443.6h1v1h-1zM521.2 450.9h1v1h-1zM531.0 413.3h1v1h-1zM501.8 421.8h1v1h-1zM510.8 427.7h1v1h-1zM519.5 424.6h1v1h-1zM485.0 429.2h1v1h-1zM532.9 430.1h1v1h-1zM505.9 427.7h1v1h-1zM506.4 429.2h1v1h-1zM488.2 445.5h1v1h-1zM499.9 433.1h1v1h-1zM473.8 444.5h1v1h-1zM519.7 400.6h1v1h-1zM531.9 423.5h1v1h-1zM492.7 418.2h1v1h-1zM526.1 423.7h1v1h-1zM516.1 422.2h1v1h-1zM500.5 440.3h1v1h-1zM498.4 441.4h1v1h-1zM481.7 429.4h1v1h-1zM492.8 447.9h1v1h-1zM479.8 427.9h1v1h-1zM518.9 426.2h1v1h-1zM546.4 431.8h1v1h-1zM519.9 430.6h1v1h-1zM479.7 430.6h1v1h-1zM503.4 428.3h1v1h-1zM485.9 427.6h1v1h-1zM500.5 442.3h1v1h-1zM513.5 422.6h1v1h-1zM505.8 432.2h1v1h-1zM497.9 429.7h1v1h-1zM486.7 443.8h1v1h-1zM523.6 425.7h1v1h-1zM516.8 428.5h1v1h-1zM538.4 418.1h1v1h-1zM486.2 426.3h1v1h-1zM522.6 433.4h1v1h-1zM522.6 431.0h1v1h-1zM506.0 413.7h1v1h-1zM492.1 416.0h1v1h-1zM498.3 418.1h1v1h-1zM509.4 425.9h1v1h-1zM483.6 445.7h1v1h-1zM514.5 411.3h1v1h-1zM513.3 433.5h1v1h-1zM507.6 437.3h1v1h-1zM515.1 436.4h1v1h-1zM510.6 425.4h1v1h-1zM518.7 432.0h1v1h-1zM510.5 422.5h1v1h-1zM495.9 429.2h1v1h-1zM501.1 433.1h1v1h-1zM510.6 426.2h1v1h-1zM509.1 429.5h1v1h-1zM535.2 429.7h1v1h-1zM501.8 435.0h1v1h-1zM503.4 429.0h1v1h-1zM502.7 423.8h1v1h-1zM480.1 413.8h1v1h-1zM515.6 437.4h1v1h-1zM497.3 437.7h1v1h-1zM503.9 432.7h1v1h-1zM496.0 430.5h1v1h-1zM498.2 407.3h1v1h-1zM511.0 425.5h1v1h-1zM475.2 448.1h1v1h-1zM508.6 430.0h1v1h-1zM512.0 422.1h1v1h-1zM491.3 430.2h1v1h-1zM510.2 450.3h1v1h-1zM532.9 412.9h1v1h-1zM503.5 433.2h1v1h-1zM513.9 418.4h1v1h-1zM500.9 451.1h1v1h-1zM517.8 407.9h1v1h-1zM479.9 430.7h1v1h-1zM513.4 431.6h1v1h-1zM497.5 415.4h1v1h-1zM513.5 432.0h1v1h-1zM506.4 423.5h1v1h-1zM516.2 424.1h1v1h-1zM492.4 435.3h1v1h-1zM493.0 444.1h1v1h-1zM511.3 416.2h1v1h-1zM515.8 437.9h1v1h-1zM476.7 439.1h1v1h-1zM526.2 404.3h1v1h-1zM500.5 416.0h1v1h-1zM498.4 406.6h1v1h-1zM482.7 432.5h1v1h-1zM511.5 430.5h1v1h-1zM518.5 435.8h1v1h-1zM520.9 430.5h1v1h-1zM493.4 432.2h1v1h-1zM562.6 429.8h1v1h-1zM522.9 429.8h1v1h-1zM521.0 418.4h1v1h-1zM535.2 413.0h1v1h-1zM514.9 448.2h1v1h-1zM479.2 443.4h1v1h-1zM480.7 432.1h1v1h-1zM505.5 425.2h1v1h-1zM507.8 419.9h1v1h-1zM502.3 417.7h1v1h-1zM497.4 417.5h1v1h-1zM512.9 412.2h1v1h-1zM516.7 420.0h1v1h-1zM508.1 440.5h1v1h-1zM502.7 410.0h1v1h-1zM504.7 398.4h1v1h-1zM510.6 422.7h1v1h-1zM488.0 436.9h1v1h-1zM511.1 448.1h1v1h-1zM508.9 448.3h1v1h-1zM526.2 414.1h1v1h-1zM501.1 444.8h1v1h-1zM506.7 430.2h1v1h-1zM499.9 418.3h1v1h-1zM499.1 421.3h1v1h-1zM484.6 434.3h1v1h-1zM540.4 432.2h1v1h-1zM507.7 429.5h1v1h-1zM520.7 437.4h1v1h-1zM511.1 421.6h1v1h-1zM506.6 440.7h1v1h-1zM544.2 406.6h1v1h-1zM480.9 447.6h1v1h-1zM507.5 429.6h1v1h-1zM526.6 421.2h1v1h-1zM481.3 417.7h1v1h-1zM503.1 417.5h1v1h-1zM507.7 414.4h1v1h-1zM497.5 416.4h1v1h-1zM501.1 425.9h1v1h-1zM522.0 436.8h1v1h-1zM502.2 421.0h1v1h-1zM538.4 419.6h1v1h-1zM519.5 429.9h1v1h-1zM533.5 428.6h1v1h-1zM521.1 431.0h1v1h-1zM493.2 427.4h1v1h-1zM507.0 429.4h1v1h-1zM509.6 430.7h1v1h-1zM507.0 423.8h1v1h-1zM487.3 445.4h1v1h-1zM513.6 416.3h1v1h-1zM517.1 428.6h1v1h-1zM502.4 410.5h1v1h-1zM488.1 429.6h1v1h-1zM528.9 410.3h1v1h-1zM498.9 419.7h1v1h-1zM502.2 434.0h1v1h-1zM466.9 414.1h1v1h-1zM518.2 424.3h1v1h-1zM502.9 440.5h1v1h-1zM514.8 402.7h1v1h-1zM509.9 439.2h1v1h-1zM497.1 429.0h1v1h-1zM521.3 419.7h1v1h-1zM487.9 428.7h1v1h-1zM490.6 441.0h1v1h-1zM486.4 447.5h1v1h-1zM484.0 438.2h1v1h-1zM485.3 433.8h1v1h-1zM527.6 432.2h1v1h-1zM527.2 419.3h1v1h-1zM510.7 429.4h1v1h-1zM515.8 420.5h1v1h-1zM525.7 424.3h1v1h-1zM527.0 425.5h1v1h-1zM515.5 417.1h1v1h-1zM497.2 418.4h1v1h-1zM503.2 428.1h1v1h-1zM515.9 411.2h1v1h-1zM555.7 407.4h1v1h-1zM530.8 430.0h1v1h-1zM469.8 440.6h1v1h-1zM521.0 396.6h1v1h-1zM516.2 414.8h1v1h-1zM502.1 432.8h1v1h-1zM481.3 440.9h1v1h-1zM495.8 424.8h1v1h-1zM531.7 456.2h1v1h-1zM515.4 431.0h1v1h-1zM504.7 421.5h1v1h-1zM517.7 440.4h1v1h-1zM514.3 435.0h1v1h-1zM514.2 452.6h1v1h-1zM485.9 443.2h1v1h-1zM517.2 427.1h1v1h-1zM487.3 424.0h1v1h-1zM505.0 430.2h1v1h-1zM486.1 425.3h1v1h-1zM520.3 434.1h1v1h-1zM497.1 424.8h1v1h-1zM506.6 455.2h1v1h-1zM515.1 424.3h1v1h-1zM531.6 443.1h1v1h-1zM520.1 407.6h1v1h-1zM505.3 424.6h1v1h-1zM498.4 418.6h1v1h-1zM498.1 420.2h1v1h-1zM513.2 426.3h1v1h-1zM480.6 420.5h1v1h-1zM503.3 436.8h1v1h-1zM515.1 424.3h1v1h-1zM457.0 443.1h1v1h-1zM495.7 429.2h1v1h-1zM488.2 431.2h1v1h-1zM508.3 457.1h1v1h-1zM517.7 421.8h1v1h-1zM506.8 427.1h1v1h-1zM509.2 423.0h1v1h-1zM511.5 437.5h1v1h-1zM521.5 425.7h1v1h-1zM528.6 421.9h1v1h-1zM486.8 417.5h1v1h-1zM497.4 431.5h1v1h-1zM517.9 435.5h1v1h-1zM496.4 423.8h1v1h-1zM523.9 434.2h1v1h-1zM502.1 433.9h1v1h-1zM529.6 422.6h1v1h-1zM499.3 408.9h1v1h-1zM530.1 425.9h1v1h-1zM508.1 422.8h1v1h-1zM489.0 434.4h1v1h-1zM510.5 438.7h1v1h-1zM495.3 448.6h1v1h-1zM512.9 438.7h1v1h-1zM494.8 436.9h1v1h-1zM526.5 421.6h1v1h-1zM484.8 433.6h1v1h-1zM510.7 411.6h1v1h-1zM487.4 438.7h1v1h-1zM496.4 439.9h1v1h-1zM483.6 417.9h1v1h-1zM502.0 446.4h1v1h-1zM495.1 433.0h1v1h-1zM508.1 417.6h1v1h-1zM524.9 423.0h1v1h-1zM508.3 409.6h1v1h-1zM471.6 412.8h1v1h-1zM504.3 426.9h1v1h-1zM524.3 437.3h1v1h-1zM503.2 426.9h1v1h-1zM520.4 439.4h1v1h-1zM498.1 438.6h1v1h-1zM503.1 426.3h1v1h-1zM517.1 415.6h1v1h-1zM494.6 440.5h1v1h-1zM506.7 425.6h1v1h-1zM507.9 433.3h1v1h-1zM505.4 437.2h1v1h-1zM519.7 439.2h1v1h-1zM530.0 428.2h1v1h-1zM505.5 430.2h1v1h-1zM509.9 457.9h1v1h-1zM506.8 434.4h1v1h-1zM523.1 407.1h1v1h-1zM494.3 429.2h1v1h-1zM488.5 422.1h1v1h-1zM505.2 443.0h1v1h-1zM519.0 423.9h1v1h-1zM502.3 412.3h1v1h-1zM520.0 427.7h1v1h-1zM492.8 436.3h1v1h-1zM503.3 424.2h1v1h-1zM490.9 427.6h1v1h-1zM495.9 437.8h1v1h-1zM514.7 428.7h1v1h-1zM503.9 425.2h1v1h-1zM531.5 398.4h1v1h-1zM527.2 424.0h1v1h-1zM507.3 422.8h1v1h-1zM500.4 418.2h1v1h-1zM487.1 435.2h1v1h-1zM486.7 445.6h1v1h-1zM511.8 389.3h1v1h-1zM486.1 439.7h1v1h-1zM511.7 427.7h1v1h-1zM517.2 432.3h1v1h-1zM527.7 439.3h1v1h-1zM511.8 435.8h1v1h-1zM483.6 436.4h1v1h-1zM495.3 448.1h1v1h-1zM544.9 418.9h1v1h-1zM488.5 434.7h1v1h-1zM509.4 429.6h1v1h-1zM528.0 430.2h1v1h-1zM474.0 456.5h1v1h-1zM498.8 425.7h1v1h-1zM528.3 417.0h1v1h-1zM483.0 423.8h1v1h-1zM512.5 436.0h1v1h-1zM529.9 417.3h1v1h-1zM507.4 445.8h1v1h-1zM506.9 444.2h1v1h-1zM512.6 428.7h1v1h-1zM505.9 432.1h1v1h-1zM498.8 424.4h1v1h-1zM503.8 422.7h1v1h-1zM513.1 426.9h1v1h-1zM503.6 427.6h1v1h-1zM511.4 445.4h1v1h-1zM505.9 422.5h1v1h-1zM506.4 435.8h1v1h-1zM504.7 427.7h1v1h-1zM505.1 431.0h1v1h-1zM515.7 429.7h1v1h-1zM480.0 427.8h1v1h-1zM472.3 451.1h1v1h-1zM529.6 433.3h1v1h-1zM514.7 437.7h1v1h-1zM507.3 427.0h1v1h-1zM482.5 429.9h1v1h-1zM502.9 440.0h1v1h-1zM531.1 413.6h1v1h-1zM514.8 428.2h1v1h-1zM490.3 416.6h1v1h-1zM491.7 419.1h1v1h-1zM503.0 428.5h1v1h-1zM504.9 427.4h1v1h-1zM511.9 416.4h1v1h-1zM515.1 407.1h1v1h-1zM510.6 431.1h1v1h-1zM490.5 417.9h1v1h-1zM515.1 417.9h1v1h-1zM522.7 430.3h1v1h-1zM508.1 427.9h1v1h-1zM524.2 425.5h1v1h-1zM495.0 435.0h1v1h-1zM517.1 426.5h1v1h-1zM510.4 425.4h1v1h-1zM502.9 420.0h1v1h-1zM491.2 446.9h1v1h-1zM499.6 433.8h1v1h-1zM486.6 438.3h1v1h-1zM507.0 460.3h1v1h-1zM489.5 425.1h1v1h-1zM526.4 432.8h1v1h-1zM478.0 442.8h1v1h-1zM516.6 411.4h1v1h-1zM516.3 419.0h1v1h-1zM492.1 430.6h1v1h-1zM496.2 417.8h1v1h-1zM539.5 410.4h1v1h-1zM500.3 440.2h1v1h-1zM512.1 440.6h1v1h-1zM505.5 432.7h1v1h-1zM510.2 428.9h1v1h-1zM504.7 428.2h1v1h-1zM530.3 411.7h1v1h-1zM498.8 428.0h1v1h-1zM518.1 428.2h1v1h-1zM517.0 410.0h1v1h-1zM511.3 424.7h1v1h-1zM504.6 431.1h1v1h-1zM480.2 442.1h1v1h-1zM505.0 413.9h1v1h-1zM512.5 442.7h1v1h-1zM504.7 435.7h1v1h-1zM501.8 421.8h1v1h-1zM493.1 429.7h1v1h-1zM530.3 427.7h1v1h-1zM501.5 441.3h1v1h-1zM503.7 422.3h1v1h-1zM511.1 417.0h1v1h-1zM489.9 449.1h1v1h-1zM483.3 443.7h1v1h-1zM485.7 436.7h1v1h-1zM503.6 425.0h1v1h-1zM475.7 439.9h1v1h-1zM504.3 419.9h1v1h-1zM510.9 437.4h1v1h-1zM498.6 434.5h1v1h-1zM492.7 438.2h1v1h-1zM526.8 446.9h1v1h-1zM523.1 426.5h1v1h-1zM525.2 410.5h1v1h-1zM521.9 416.6h1v1h-1zM503.2 441.6h1v1h-1zM516.6 438.7h1v1h-1zM488.1 439.0h1v1h-1zM499.6 428.6h1v1h-1zM483.8 447.8h1v1h-1zM507.7 417.7h1v1h-1zM485.4 427.9h1v1h-1zM528.4 418.8h1v1h-1zM505.3 434.4h1v1h-1zM509.4 430.0h1v1h-1zM520.4 426.6h1v1h-1zM516.8 411.9h1v1h-1zM508.0 424.3h1v1h-1zM509.8 427.0h1v1h-1zM453.8 435.7h1v1h-1zM475.6 433.3h1v1h-1zM445.4 446.9h1v1h-1zM475.9 436.7h1v1h-1zM464.3 430.0h1v1h-1zM459.8 452.9h1v1h-1zM473.6 441.7h1v1h-1zM467.0 445.3h1v1h-1zM477.1 463.7h1v1h-1zM467.8 451.2h1v1h-1zM447.4 454.1h1v1h-1zM474.6 456.0h1v1h-1zM471.9 445.3h1v1h-1zM483.0 432.2h1v1h-1zM471.5 452.7h1v1h-1zM452.0 426.5h1v1h-1zM468.7 441.5h1v1h-1zM471.1 447.6h1v1h-1zM452.3 444.0h1v1h-1zM478.2 435.9h1v1h-1zM458.9 426.9h1v1h-1zM474.0 463.0h1v1h-1zM444.1 449.0h1v1h-1zM475.2 433.6h1v1h-1zM457.8 427.9h1v1h-1zM452.2 442.1h1v1h-1zM471.8 441.5h1v1h-1zM474.6 442.6h1v1h-1zM447.0 457.2h1v1h-1zM479.1 431.9h1v1h-1zM487.1 445.7h1v1h-1zM464.8 462.6h1v1h-1zM428.9 421.4h1v1h-1zM472.7 437.4h1v1h-1zM450.1 457.9h1v1h-1zM469.7 425.3h1v1h-1zM454.0 450.2h1v1h-1zM487.4 416.9h1v1h-1zM466.5 435.8h1v1h-1zM439.2 438.4h1v1h-1zM441.2 434.0h1v1h-1zM485.2 446.3h1v1h-1zM473.8 447.4h1v1h-1zM467.9 451.7h1v1h-1zM447.2 436.2h1v1h-1zM474.8 431.9h1v1h-1zM457.2 454.5h1v1h-1zM484.1 433.3h1v1h-1zM452.0 447.3h1v1h-1zM466.9 432.5h1v1h-1zM471.4 446.9h1v1h-1zM481.8 450.0h1v1h-1zM478.2 432.1h1v1h-1zM467.6 441.3h1v1h-1zM455.5 443.5h1v1h-1zM466.7 439.8h1v1h-1zM456.6 450.2h1v1h-1zM441.4 450.2h1v1h-1zM463.4 443.7h1v1h-1zM430.8 460.2h1v1h-1zM439.6 430.4h1v1h-1zM472.1 433.4h1v1h-1zM457.3 443.0h1v1h-1zM472.6 437.1h1v1h-1zM466.3 445.7h1v1h-1zM454.1 431.7h1v1h-1zM490.2 430.5h1v1h-1zM480.2 441.4h1v1h-1zM483.5 433.0h1v1h-1zM470.4 444.4h1v1h-1zM460.2 444.2h1v1h-1zM452.8 439.6h1v1h-1zM457.9 449.5h1v1h-1zM462.1 424.2h1v1h-1zM458.2 439.4h1v1h-1zM450.9 456.2h1v1h-1zM468.9 450.5h1v1h-1zM452.8 435.9h1v1h-1zM477.2 423.7h1v1h-1zM468.4 441.6h1v1h-1zM456.5 441.6h1v1h-1zM448.6 443.2h1v1h-1zM446.6 425.5h1v1h-1zM482.5 432.3h1v1h-1zM434.3 452.0h1v1h-1zM452.7 399.1h1v1h-1zM462.5 451.5h1v1h-1zM468.2 460.8h1v1h-1zM461.6 447.6h1v1h-1zM449.5 442.5h1v1h-1zM484.4 446.5h1v1h-1zM458.2 425.4h1v1h-1zM474.0 431.8h1v1h-1zM468.3 428.7h1v1h-1zM489.3 426.7h1v1h-1zM466.3 430.3h1v1h-1zM471.8 452.3h1v1h-1zM475.4 417.3h1v1h-1zM466.3 415.4h1v1h-1zM489.5 441.4h1v1h-1zM457.0 448.5h1v1h-1zM470.1 426.6h1v1h-1zM485.8 437.7h1v1h-1zM439.1 457.1h1v1h-1zM484.6 455.4h1v1h-1zM471.0 430.0h1v1h-1zM476.3 462.6h1v1h-1zM474.7 459.6h1v1h-1zM452.7 452.7h1v1h-1zM486.2 384.9h1v1h-1zM528.3 381.9h1v1h-1zM537.2 387.2h1v1h-1zM492.0 392.2h1v1h-1zM540.0 391.7h1v1h-1zM481.5 401.0h1v1h-1zM532.0 395.0h1v1h-1zM505.9 385.3h1v1h-1zM500.6 385.4h1v1h-1zM512.0 393.4h1v1h-1zM513.7 377.8h1v1h-1zM490.9 379.0h1v1h-1zM480.6 389.6h1v1h-1zM515.5 386.2h1v1h-1zM492.7 401.1h1v1h-1zM486.4 391.0h1v1h-1zM496.9 392.7h1v1h-1zM538.5 384.5h1v1h-1zM499.5 388.4h1v1h-1zM523.7 380.5h1v1h-1zM480.4 390.5h1v1h-1zM524.7 396.7h1v1h-1zM544.6 399.4h1v1h-1zM531.0 388.2h1v1h-1zM531.6 382.8h1v1h-1zM508.1 382.4h1v1h-1zM512.2 377.3h1v1h-1zM541.0 389.4h1v1h-1zM495.8 399.3h1v1h-1zM502.7 399.7h1v1h-1zM511.8 375.6h1v1h-1zM482.1 391.1h1v1h-1zM526.1 378.4h1v1h-1zM491.1 394.7h1v1h-1zM497.3 394.7h1v1h-1zM495.0 389.8h1v1h-1zM528.5 395.1h1v1h-1zM506.9 388.9h1v1h-1zM547.3 393.0h1v1h-1zM542.5 397.3h1v1h-1zM526.4 383.2h1v1h-1zM495.3 382.1h1v1h-1zM501.7 386.6h1v1h-1zM504.4 386.7h1v1h-1zM426.4 415.6h1v1h-1zM475.6 426.3h1v1h-1zM469.8 455.1h1v1h-1zM470.8 447.9h1v1h-1zM452.0 440.9h1v1h-1zM448.0 426.3h1v1h-1zM424.2 438.4h1v1h-1zM424.4 431.3h1v1h-1zM449.6 439.0h1v1h-1zM428.1 444.0h1v1h-1zM423.6 437.1h1v1h-1zM426.2 422.4h1v1h-1z" fill="#000" fill-opacity="0.8"/>
<line x1="477.2" y1="295.0" x2="477.2" y2="469.2" stroke="#333" stroke-width="1.6"/>
<line x1="413.9" y1="404.0" x2="588.0" y2="404.0" stroke="#444" stroke-width="1.6"/>
<line x1="413.9" y1="295.0" x2="413.9" y2="469.7" stroke="#777" stroke-width="1"/>
<line x1="413.4" y1="469.2" x2="588.0" y2="469.2" stroke="#777" stroke-width="1"/>
<path d="M413.9,469.2 v4.5 M413.9,468.6 h-4.5 M445.2,469.2 v4.5 M413.9,436.6 h-4.5 M477.2,469.2 v4.5 M413.9,404.5 h-4.5 M509.2,469.2 v4.5 M413.9,372.5 h-4.5 M541.3,469.2 v4.5 M413.9,340.4 h-4.5 M573.4,469.2 v4.5 M413.9,308.4 h-4.5 " stroke="#222" stroke-width="1.8" fill="none"/>
<path d="M422.7,469.2 v2.6 M413.9,459.0 h-2.4 M428.4,469.2 v2.6 M413.9,453.3 h-2.4 M432.4,469.2 v2.6 M413.9,449.3 h-2.4 M435.5,469.2 v2.6 M413.9,446.2 h-2.4 M438.0,469.2 v2.6 M413.9,443.7 h-2.4 M440.2,469.2 v2.6 M413.9,441.5 h-2.4 M442.0,469.2 v2.6 M413.9,439.7 h-2.4 M443.7,469.2 v2.6 M413.9,438.0 h-2.4 M454.8,469.2 v2.6 M413.9,426.9 h-2.4 M460.4,469.2 v2.6 M413.9,421.3 h-2.4 M464.4,469.2 v2.6 M413.9,417.3 h-2.4 M467.6,469.2 v2.6 M413.9,414.1 h-2.4 M470.1,469.2 v2.6 M413.9,411.6 h-2.4 M472.2,469.2 v2.6 M413.9,409.5 h-2.4 M474.1,469.2 v2.6 M413.9,407.6 h-2.4 M475.7,469.2 v2.6 M413.9,406.0 h-2.4 M486.8,469.2 v2.6 M413.9,394.9 h-2.4 M492.5,469.2 v2.6 M413.9,389.2 h-2.4 M496.5,469.2 v2.6 M413.9,385.2 h-2.4 M499.6,469.2 v2.6 M413.9,382.1 h-2.4 M502.1,469.2 v2.6 M413.9,379.6 h-2.4 M504.3,469.2 v2.6 M413.9,377.4 h-2.4 M506.1,469.2 v2.6 M413.9,375.6 h-2.4 M507.8,469.2 v2.6 M413.9,373.9 h-2.4 M518.9,469.2 v2.6 M413.9,362.8 h-2.4 M524.5,469.2 v2.6 M413.9,357.2 h-2.4 M528.5,469.2 v2.6 M413.9,353.2 h-2.4 M531.7,469.2 v2.6 M413.9,350.0 h-2.4 M534.2,469.2 v2.6 M413.9,347.5 h-2.4 M536.3,469.2 v2.6 M413.9,345.4 h-2.4 M538.2,469.2 v2.6 M413.9,343.5 h-2.4 M539.8,469.2 v2.6 M413.9,341.9 h-2.4 M550.9,469.2 v2.6 M413.9,330.8 h-2.4 M556.6,469.2 v2.6 M413.9,325.1 h-2.4 M560.6,469.2 v2.6 M413.9,321.1 h-2.4 M563.7,469.2 v2.6 M413.9,318.0 h-2.4 M566.2,469.2 v2.6 M413.9,315.5 h-2.4 M568.4,469.2 v2.6 M413.9,313.3 h-2.4 M570.2,469.2 v2.6 M413.9,311.5 h-2.4 M571.9,469.2 v2.6 M413.9,309.8 h-2.4 M583.0,469.2 v2.6 M413.9,298.7 h-2.4 " stroke="#555" stroke-width="1.1" fill="none"/>
<text x="417.4" y="489.0" font-size="7.2" fill="#333" stroke="#333" stroke-width="0.25">10<tspan font-size="6.2" dy="-5.0">0</tspan></text>
<text x="394.1" y="468.7" font-size="7.2" fill="#333" stroke="#333" stroke-width="0.25">10<tspan font-size="6.2" dy="-5.2">0</tspan></text>
<text x="442.2" y="489.0" font-size="7.2" fill="#333" stroke="#333" stroke-width="0.25">10<tspan font-size="6.2" dy="-5.0">1</tspan></text>
<text x="394.1" y="441.4" font-size="7.2" fill="#333" stroke="#333" stroke-width="0.25">10<tspan font-size="6.2" dy="-5.2">1</tspan></text>
<text x="474.4" y="489.0" font-size="7.2" fill="#333" stroke="#333" stroke-width="0.25">10<tspan font-size="6.2" dy="-5.0">2</tspan></text>
<text x="394.1" y="409.3" font-size="7.2" fill="#333" stroke="#333" stroke-width="0.25">10<tspan font-size="6.2" dy="-5.2">2</tspan></text>
<text x="506.4" y="489.0" font-size="7.2" fill="#333" stroke="#333" stroke-width="0.25">10<tspan font-size="6.2" dy="-5.0">3</tspan></text>
<text x="394.1" y="377.3" font-size="7.2" fill="#333" stroke="#333" stroke-width="0.25">10<tspan font-size="6.2" dy="-5.2">3</tspan></text>
<text x="538.5" y="489.0" font-size="7.2" fill="#333" stroke="#333" stroke-width="0.25">10<tspan font-size="6.2" dy="-5.0">4</tspan></text>
<text x="394.1" y="345.2" font-size="7.2" fill="#333" stroke="#333" stroke-width="0.25">10<tspan font-size="6.2" dy="-5.2">4</tspan></text>
<text x="570.6" y="489.0" font-size="7.2" fill="#333" stroke="#333" stroke-width="0.25">10<tspan font-size="6.2" dy="-5.0">5</tspan></text>
<text x="394.1" y="313.2" font-size="7.2" fill="#333" stroke="#333" stroke-width="0.25">10<tspan font-size="6.2" dy="-5.2">5</tspan></text>
<text x="429.92" y="420.00" font-size="11.2" font-weight="bold" fill="#222" textLength="34.94" lengthAdjust="spacingAndGlyphs" style="white-space:pre" >3.24 %</text>
<text transform="translate(376.20,403.50) rotate(-90)" x="-0.64" y="0" font-size="15.8" font-weight="bold" fill="#000" textLength="48.58" lengthAdjust="spacingAndGlyphs" >7-AAD</text>
<text x="458.41" y="512.00" font-size="15.8" font-weight="bold" fill="#000" textLength="77.07" lengthAdjust="spacingAndGlyphs" style="white-space:pre" >Annexin V</text>
<text x="1.8" y="558.5" font-size="21.5" font-weight="bold">C</text>
<line x1="30" y1="583.9" x2="656" y2="583.9" stroke="#C8D7EA" stroke-width="4.2"/>
<path d="M655,576.8 L669.5,583.6 L655,590.8 Z" fill="#C8D7EA"/>
<path d="M49.8,567.4 L107.6,567.4 L107.6,551.6 L139.6,583.4 L107.6,615.0 L107.6,599.2 L49.8,599.2 L66.2,583.4 Z" fill="#EEEFF3" stroke="#8E98AA" stroke-width="2" stroke-linejoin="miter"/>
<text x="74.20" y="589.00" font-size="15.2" font-weight="bold" fill="#000" textLength="42.99" lengthAdjust="spacingAndGlyphs" style="white-space:pre" >EF1-α</text>
<rect x="149.6" y="567.2" width="112.3" height="35.9" fill="#fff" stroke="#8E98AA" stroke-width="2"/>
<text x="155.37" y="589.80" font-size="15.2" font-weight="bold" fill="#000" textLength="101.92" lengthAdjust="spacingAndGlyphs" style="white-space:pre" >mCD8 Leader</text>
<rect x="271.3" y="567.2" width="110.4" height="35.9" fill="#F0A08A" stroke="#8E98AA" stroke-width="2"/>
<text x="279.27" y="589.80" font-size="15.2" font-weight="bold" fill="#000" textLength="92.11" lengthAdjust="spacingAndGlyphs" style="white-space:pre" >FGFR4 scFv</text>
<rect x="392.1" y="567.2" width="85.7" height="35.9" fill="#fff" stroke="#8E98AA" stroke-width="2"/>
<text x="398.58" y="589.80" font-size="15.2" font-weight="bold" fill="#000" textLength="45.18" lengthAdjust="spacingAndGlyphs" style="white-space:pre" >mCD8</text>
<text x="447.83" y="589.80" font-size="15.2" font-weight="bold" fill="#000" textLength="24.12" lengthAdjust="spacingAndGlyphs" style="white-space:pre" >TM</text>
<rect x="488.1" y="567.2" width="71.9" height="35.9" fill="#F0A08A" stroke="#8E98AA" stroke-width="2"/>
<text x="495.47" y="589.80" font-size="15.2" font-weight="bold" fill="#000" textLength="60.11" lengthAdjust="spacingAndGlyphs" style="white-space:pre" >m4-1BB</text>
<rect x="567.4" y="567.2" width="59.4" height="35.9" fill="#fff" stroke="#8E98AA" stroke-width="2"/>
<text x="574.77" y="589.80" font-size="15.2" font-weight="bold" fill="#000" textLength="45.57" lengthAdjust="spacingAndGlyphs" style="white-space:pre" >mCD3</text>
<line x1="30" y1="674.5" x2="656" y2="674.5" stroke="#C8D7EA" stroke-width="4.2"/>
<path d="M655,667.4 L669.5,674.2 L655,681.4 Z" fill="#C8D7EA"/>
<path d="M49.8,658.0 L107.6,658.0 L107.6,642.2 L139.6,674.0 L107.6,705.6 L107.6,689.8 L49.8,689.8 L66.2,674.0 Z" fill="#EEEFF3" stroke="#8E98AA" stroke-width="2" stroke-linejoin="miter"/>
<text x="74.20" y="679.60" font-size="15.2" font-weight="bold" fill="#000" textLength="42.99" lengthAdjust="spacingAndGlyphs" style="white-space:pre" >EF1-α</text>
<rect x="149.6" y="657.8" width="112.3" height="35.9" fill="#fff" stroke="#8E98AA" stroke-width="2"/>
<text x="155.37" y="680.40" font-size="15.2" font-weight="bold" fill="#000" textLength="101.92" lengthAdjust="spacingAndGlyphs" style="white-space:pre" >mCD8 Leader</text>
<rect x="271.3" y="657.8" width="110.4" height="35.9" fill="#F0A08A" stroke="#8E98AA" stroke-width="2"/>
<text x="277.77" y="680.40" font-size="15.2" font-weight="bold" fill="#000" textLength="94.75" lengthAdjust="spacingAndGlyphs" style="white-space:pre" >mCD19 scFv</text>
<rect x="392.1" y="657.8" width="85.7" height="35.9" fill="#fff" stroke="#8E98AA" stroke-width="2"/>
<text x="398.58" y="680.40" font-size="15.2" font-weight="bold" fill="#000" textLength="45.18" lengthAdjust="spacingAndGlyphs" style="white-space:pre" >mCD8</text>
<text x="447.83" y="680.40" font-size="15.2" font-weight="bold" fill="#000" textLength="24.12" lengthAdjust="spacingAndGlyphs" style="white-space:pre" >TM</text>
<rect x="488.1" y="657.8" width="71.9" height="35.9" fill="#F0A08A" stroke="#8E98AA" stroke-width="2"/>
<text x="495.47" y="680.40" font-size="15.2" font-weight="bold" fill="#000" textLength="60.11" lengthAdjust="spacingAndGlyphs" style="white-space:pre" >m4-1BB</text>
<rect x="567.4" y="657.8" width="59.4" height="35.9" fill="#fff" stroke="#8E98AA" stroke-width="2"/>
<text x="574.77" y="680.40" font-size="15.2" font-weight="bold" fill="#000" textLength="45.57" lengthAdjust="spacingAndGlyphs" style="white-space:pre" >mCD3</text>
<text x="1.9" y="776.6" font-size="21.5" font-weight="bold">D</text>
<path d="M128.6,785.6 V1010.4" stroke="#000" stroke-width="2.1" fill="none"/>
<path d="M122.4,1009.4 H463.8" stroke="#000" stroke-width="2.1" fill="none"/>
<path d="M122.4,1009.4 H129 M122.4,964.9 H129 M122.4,920.5 H129 M122.4,876.0 H129 M122.4,831.5 H129 M122.4,787.0 H129 M161.9,1009.4 V1015.2 M229.2,1009.4 V1015.2 M296.3,1009.4 V1015.2 M362.9,1009.4 V1015.2 M429.6,1009.4 V1015.2 " stroke="#000" stroke-width="2" fill="none"/>
<text x="110.22" y="1015.20" font-size="16.0" font-weight="bold" fill="#000" textLength="9.70" lengthAdjust="spacingAndGlyphs" style="white-space:pre" >0</text>
<text x="100.54" y="970.73" font-size="16.0" font-weight="bold" fill="#000" textLength="19.40" lengthAdjust="spacingAndGlyphs" style="white-space:pre" >20</text>
<text x="100.54" y="926.26" font-size="16.0" font-weight="bold" fill="#000" textLength="19.40" lengthAdjust="spacingAndGlyphs" style="white-space:pre" >40</text>
<text x="100.54" y="881.79" font-size="16.0" font-weight="bold" fill="#000" textLength="19.40" lengthAdjust="spacingAndGlyphs" style="white-space:pre" >60</text>
<text x="100.54" y="837.32" font-size="16.0" font-weight="bold" fill="#000" textLength="19.40" lengthAdjust="spacingAndGlyphs" style="white-space:pre" >80</text>
<text x="90.86" y="792.85" font-size="16.0" font-weight="bold" fill="#000" textLength="29.10" lengthAdjust="spacingAndGlyphs" style="white-space:pre" >100</text>
<text x="143.60" y="1034.00" font-size="15.6" font-weight="bold" fill="#000" textLength="35.56" lengthAdjust="spacingAndGlyphs" style="white-space:pre" >0.5:1</text>
<text x="217.26" y="1034.00" font-size="15.6" font-weight="bold" fill="#000" textLength="22.55" lengthAdjust="spacingAndGlyphs" style="white-space:pre" >1:1</text>
<text x="284.55" y="1034.00" font-size="15.6" font-weight="bold" fill="#000" textLength="22.55" lengthAdjust="spacingAndGlyphs" style="white-space:pre" >2:1</text>
<text x="351.31" y="1034.00" font-size="15.6" font-weight="bold" fill="#000" textLength="22.55" lengthAdjust="spacingAndGlyphs" style="white-space:pre" >4:1</text>
<text x="417.89" y="1034.00" font-size="15.6" font-weight="bold" fill="#000" textLength="22.55" lengthAdjust="spacingAndGlyphs" style="white-space:pre" >8:1</text>
<text x="208.49" y="1059.80" font-size="18.3" font-weight="bold" fill="#000" textLength="174.79" lengthAdjust="spacingAndGlyphs" style="white-space:pre" >Effect / Target Ratio</text>
<text transform="translate(83.20,974.90) rotate(-90)" x="-0.88" y="0" font-size="19.0" font-weight="normal" fill="#000" textLength="146.77" lengthAdjust="spacingAndGlyphs" stroke="#000" stroke-width="0.55">Specific Lysis (%</text>
<text transform="translate(83.20,824.90) rotate(-90)" x="-0.08" y="0" font-size="19.0" font-weight="normal" fill="#000" textLength="5.28" lengthAdjust="spacingAndGlyphs" stroke="#000" stroke-width="0.55">)</text>
<path d="M161.9,1006.7 V1005.8 M157.6,1005.8 H166.2" stroke="#2E8887" stroke-width="2" fill="none"/>
<path d="M229.2,1004.3 V1003.0 M224.9,1003.0 H233.5" stroke="#2E8887" stroke-width="2" fill="none"/>
<path d="M296.3,999.4 V997.6 M292.0,997.6 H300.6" stroke="#2E8887" stroke-width="2" fill="none"/>
<path d="M362.9,995.4 V993.2 M358.6,993.2 H367.2" stroke="#2E8887" stroke-width="2" fill="none"/>
<path d="M429.6,987.2 V983.8 M425.3,983.8 H433.9" stroke="#2E8887" stroke-width="2" fill="none"/>
<path d="M161.9,1006.7 L229.2,1004.3 L296.3,999.4 L362.9,995.4 L429.6,987.2" stroke="#2E8887" stroke-width="2.2" fill="none" stroke-linejoin="round"/>
<path d="M157.4,1003.5 L161.9,1011.3 L166.4,1003.5 Z" fill="#2E8887"/>
<path d="M224.7,1001.1 L229.2,1008.9 L233.7,1001.1 Z" fill="#2E8887"/>
<path d="M291.8,996.2 L296.3,1004.0 L300.8,996.2 Z" fill="#2E8887"/>
<path d="M358.4,992.2 L362.9,1000.0 L367.4,992.2 Z" fill="#2E8887"/>
<path d="M425.1,984.0 L429.6,991.8 L434.1,984.0 Z" fill="#2E8887"/>
<path d="M161.9,1005.4 V1004.1 M157.6,1004.1 H166.2" stroke="#E8B92E" stroke-width="2" fill="none"/>
<path d="M229.2,1000.5 V998.7 M224.9,998.7 H233.5" stroke="#E8B92E" stroke-width="2" fill="none"/>
<path d="M296.3,990.5 V985.6 M292.0,985.6 H300.6" stroke="#E8B92E" stroke-width="2" fill="none"/>
<path d="M362.9,989.4 V982.3 M358.6,982.3 H367.2" stroke="#E8B92E" stroke-width="2" fill="none"/>
<path d="M429.6,987.6 V992.7 M425.3,992.7 H433.9" stroke="#E8B92E" stroke-width="2" fill="none"/>
<path d="M161.9,1005.4 L229.2,1000.5 L296.3,990.5 L362.9,989.4 L429.6,987.6" stroke="#E8B92E" stroke-width="2.2" fill="none" stroke-linejoin="round"/>
<path d="M157.4,1008.6 L161.9,1000.8 L166.4,1008.6 Z" fill="#E8B92E"/>
<path d="M224.7,1003.7 L229.2,995.9 L233.7,1003.7 Z" fill="#E8B92E"/>
<path d="M291.8,993.7 L296.3,985.9 L300.8,993.7 Z" fill="#E8B92E"/>
<path d="M358.4,992.6 L362.9,984.8 L367.4,992.6 Z" fill="#E8B92E"/>
<path d="M425.1,990.8 L429.6,983.0 L434.1,990.8 Z" fill="#E8B92E"/>
<path d="M161.9,1004.7 V1002.7 M157.6,1002.7 H166.2" stroke="#EEA592" stroke-width="2" fill="none"/>
<path d="M229.2,998.7 V997.4 M224.9,997.4 H233.5" stroke="#EEA592" stroke-width="2" fill="none"/>
<path d="M296.3,994.7 V992.7 M292.0,992.7 H300.6" stroke="#EEA592" stroke-width="2" fill="none"/>
<path d="M362.9,990.5 V988.3 M358.6,988.3 H367.2" stroke="#EEA592" stroke-width="2" fill="none"/>
<path d="M429.6,986.9 V976.0 M425.3,976.0 H433.9" stroke="#EEA592" stroke-width="2" fill="none"/>
<path d="M161.9,1004.7 L229.2,998.7 L296.3,994.7 L362.9,990.5 L429.6,986.9" stroke="#EEA592" stroke-width="2.2" fill="none" stroke-linejoin="round"/>
<rect x="157.4" y="1000.2" width="9" height="9" fill="#EEA592"/>
<rect x="224.7" y="994.2" width="9" height="9" fill="#EEA592"/>
<rect x="291.8" y="990.2" width="9" height="9" fill="#EEA592"/>
<rect x="358.4" y="986.0" width="9" height="9" fill="#EEA592"/>
<rect x="425.1" y="982.4" width="9" height="9" fill="#EEA592"/>
<path d="M161.9,986.3 V980.5 M157.6,980.5 H166.2" stroke="#EE5A6A" stroke-width="2" fill="none"/>
<path d="M229.2,976.0 V965.2 M224.9,965.2 H233.5" stroke="#EE5A6A" stroke-width="2" fill="none"/>
<path d="M296.3,957.1 V942.9 M292.0,942.9 H300.6" stroke="#EE5A6A" stroke-width="2" fill="none"/>
<path d="M362.9,911.8 V894.9 M358.6,894.9 H367.2" stroke="#EE5A6A" stroke-width="2" fill="none"/>
<path d="M429.6,896.7 V868.7 M425.3,868.7 H433.9" stroke="#EE5A6A" stroke-width="2" fill="none"/>
<path d="M161.9,986.3 L229.2,976.0 L296.3,957.1 L362.9,911.8 L429.6,896.7" stroke="#EE5A6A" stroke-width="2.2" fill="none" stroke-linejoin="round"/>
<circle cx="161.9" cy="986.3" r="4.6" fill="#EE5A6A"/>
<circle cx="229.2" cy="976.0" r="4.6" fill="#EE5A6A"/>
<circle cx="296.3" cy="957.1" r="4.6" fill="#EE5A6A"/>
<circle cx="362.9" cy="911.8" r="4.6" fill="#EE5A6A"/>
<circle cx="429.6" cy="896.7" r="4.6" fill="#EE5A6A"/>
<path d="M282,769.9 H304" stroke="#EE5A6A" stroke-width="2.2"/>
<circle cx="293" cy="769.9" r="3.8" fill="#EE5A6A"/>
<text x="316.02" y="774.60" font-size="16.0" font-weight="normal" fill="#111" textLength="365.56" lengthAdjust="spacingAndGlyphs" style="white-space:pre" stroke="#111" stroke-width="0.3">mFGFR4-CAR  T cells + MCA-205-mFGFR4 cells</text>
<path d="M282,797.3 H304" stroke="#EEA592" stroke-width="2.2"/>
<rect x="289.3" y="793.6" width="7.4" height="7.4" fill="#EEA592"/>
<text x="316.01" y="802.00" font-size="16.0" font-weight="normal" fill="#111" textLength="294.19" lengthAdjust="spacingAndGlyphs" style="white-space:pre" stroke="#111" stroke-width="0.3">mFGFR4-CAR  T cells + MCA-205 cells</text>
<path d="M282,824.7 H304" stroke="#E8B92E" stroke-width="2.2"/>
<path d="M288.6,827.9 L293.3,820.7 L298,827.9 Z" fill="#E8B92E"/>
<text x="316.01" y="829.40" font-size="16.0" font-weight="normal" fill="#111" textLength="356.75" lengthAdjust="spacingAndGlyphs" style="white-space:pre" stroke="#111" stroke-width="0.3">mCD19-CAR  T cells + MCA-205-mFGFR4 cells</text>
<path d="M282,852.1 H304" stroke="#2E8887" stroke-width="2.2"/>
<path d="M288.6,848.9 L293.3,856.1 L298,848.9 Z" fill="#2E8887"/>
<text x="316.00" y="856.80" font-size="16.0" font-weight="normal" fill="#111" textLength="284.48" lengthAdjust="spacingAndGlyphs" style="white-space:pre" stroke="#111" stroke-width="0.3">mCD19-CAR  T cells + MCA-205 cells</text>
<text x="2.6" y="1119.2" font-size="21.5" font-weight="bold">E</text>
<path d="M143.2,1119.8 V1345.6" stroke="#000" stroke-width="2.1" fill="none"/>
<path d="M137.2,1344.6 H479.5" stroke="#000" stroke-width="2.1" fill="none"/>
<path d="M137.2,1344.6 H143.5 M137.2,1299.8 H143.5 M137.2,1255.1 H143.5 M137.2,1210.3 H143.5 M137.2,1165.5 H143.5 M137.2,1120.8 H143.5 M195.9,1344.6 V1350.6 M310.7,1344.6 V1350.6 M425.4,1344.6 V1350.6 " stroke="#000" stroke-width="2" fill="none"/>
<text x="125.00" y="1350.40" font-size="15.6" font-weight="bold" fill="#000" textLength="9.28" lengthAdjust="spacingAndGlyphs" style="white-space:pre" >0</text>
<text x="106.48" y="1305.64" font-size="15.6" font-weight="bold" fill="#000" textLength="27.85" lengthAdjust="spacingAndGlyphs" style="white-space:pre" >200</text>
<text x="106.48" y="1260.87" font-size="15.6" font-weight="bold" fill="#000" textLength="27.85" lengthAdjust="spacingAndGlyphs" style="white-space:pre" >400</text>
<text x="106.48" y="1216.11" font-size="15.6" font-weight="bold" fill="#000" textLength="27.85" lengthAdjust="spacingAndGlyphs" style="white-space:pre" >600</text>
<text x="106.48" y="1171.34" font-size="15.6" font-weight="bold" fill="#000" textLength="27.85" lengthAdjust="spacingAndGlyphs" style="white-space:pre" >800</text>
<text x="97.13" y="1126.58" font-size="15.6" font-weight="bold" fill="#000" textLength="37.13" lengthAdjust="spacingAndGlyphs" style="white-space:pre" >1000</text>
<text x="171.54" y="1369.00" font-size="16.0" font-weight="bold" fill="#000" textLength="48.11" lengthAdjust="spacingAndGlyphs" style="white-space:pre" >m IL-2</text>
<text x="285.72" y="1369.00" font-size="16.0" font-weight="bold" fill="#000" textLength="48.96" lengthAdjust="spacingAndGlyphs" style="white-space:pre" >m IL-6</text>
<text x="394.29" y="1369.00" font-size="16.0" font-weight="bold" fill="#000" textLength="62.53" lengthAdjust="spacingAndGlyphs" style="white-space:pre" >m IFN-γ</text>
<text transform="translate(88.40,1327.20) rotate(-90)" x="-1.00" y="0" font-size="19.0" font-weight="normal" fill="#000" textLength="192.72" lengthAdjust="spacingAndGlyphs" stroke="#000" stroke-width="0.55">Concentration (pg/ml)</text>
<path d="M159.5,1265.1 V1243.8 M155.5,1243.8 H163.5" stroke="#F05A68" stroke-width="2" fill="none"/>
<rect x="149.7" y="1265.1" width="19.6" height="78.5" fill="#F05A68"/>
<rect x="174.2" y="1338.7" width="19.6" height="4.9" fill="#EFA595"/>
<rect x="198.6" y="1338.0" width="19.6" height="5.6" fill="#EAB833"/>
<rect x="223.1" y="1338.7" width="19.6" height="4.9" fill="#2F8A89"/>
<path d="M274.3,1321.9 V1317.3 M270.3,1317.3 H278.3" stroke="#F05A68" stroke-width="2" fill="none"/>
<rect x="264.5" y="1321.9" width="19.6" height="21.7" fill="#F05A68"/>
<rect x="289.0" y="1335.0" width="19.6" height="8.6" fill="#EFA595"/>
<rect x="313.4" y="1334.3" width="19.6" height="9.3" fill="#EAB833"/>
<rect x="337.9" y="1336.8" width="19.6" height="6.8" fill="#2F8A89"/>
<path d="M389.0,1161.7 V1127.5 M385.0,1127.5 H393.0" stroke="#F05A68" stroke-width="2" fill="none"/>
<rect x="379.2" y="1161.7" width="19.6" height="181.9" fill="#F05A68"/>
<rect x="403.7" y="1337.1" width="19.6" height="6.5" fill="#EFA595"/>
<path d="M437.9,1337.2 V1333.9 M433.9,1333.9 H441.9" stroke="#EAB833" stroke-width="2" fill="none"/>
<rect x="428.1" y="1337.2" width="19.6" height="6.4" fill="#EAB833"/>
<rect x="452.6" y="1335.8" width="19.6" height="7.8" fill="#2F8A89"/>
<rect x="126.6" y="1387.2" width="24.1" height="12.4" fill="#F05A68"/>
<text x="159.88" y="1398.80" font-size="15.4" font-weight="normal" fill="#111" textLength="345.47" lengthAdjust="spacingAndGlyphs" style="white-space:pre" stroke="#111" stroke-width="0.3">mFGFR4-CAR  T cells + MCA-205-mFGFR4 cells</text>
<rect x="126.6" y="1413.5" width="24.1" height="12.4" fill="#EFA595"/>
<text x="159.87" y="1425.07" font-size="15.4" font-weight="normal" fill="#111" textLength="280.21" lengthAdjust="spacingAndGlyphs" style="white-space:pre" stroke="#111" stroke-width="0.3">mFGFR4-CAR  T cells + MCA-205 cells</text>
<rect x="126.6" y="1439.7" width="24.1" height="12.4" fill="#EAB833"/>
<text x="159.86" y="1451.34" font-size="15.4" font-weight="normal" fill="#111" textLength="339.97" lengthAdjust="spacingAndGlyphs" style="white-space:pre" stroke="#111" stroke-width="0.3">mCD19-CAR  T cells + MCA-205-mFGFR4 cells</text>
<rect x="126.6" y="1466.0" width="24.1" height="12.4" fill="#2F8A89"/>
<text x="159.86" y="1477.61" font-size="15.4" font-weight="normal" fill="#111" textLength="271.00" lengthAdjust="spacingAndGlyphs" style="white-space:pre" stroke="#111" stroke-width="0.3">mCD19-CAR  T cells + MCA-205 cells</text>
</svg>
</body></html>
